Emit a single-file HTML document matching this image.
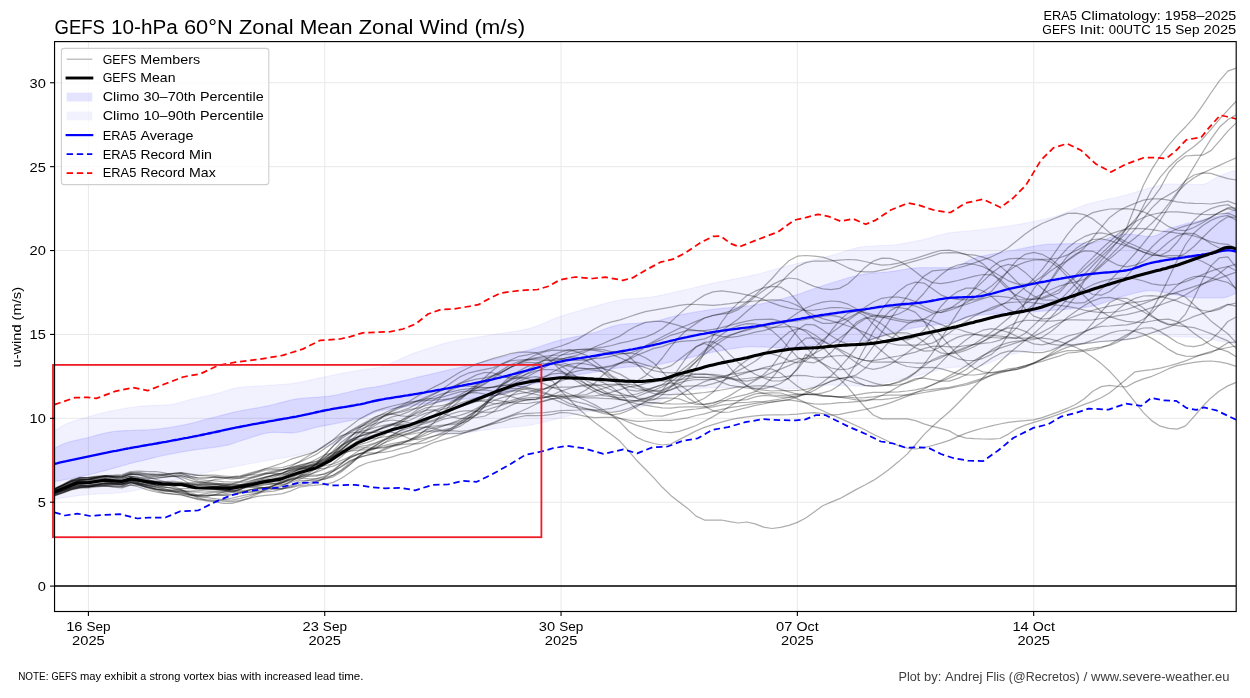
<!DOCTYPE html>
<html><head><meta charset="utf-8"><title>GEFS 10-hPa 60N Zonal Mean Zonal Wind</title>
<style>html,body{margin:0;padding:0;background:#fff;}svg{display:block;will-change:transform;}text{font-family:"Liberation Sans",sans-serif;}</style></head><body>
<svg width="1250" height="698" viewBox="0 0 1250 698">
<rect x="0" y="0" width="1250" height="698" fill="#fff"/>
<defs><clipPath id="ax"><rect x="54.55" y="41.6" width="1181.65" height="569.9"/></clipPath></defs>
<g stroke="#e9e9e9" stroke-width="1" fill="none">
<line x1="54.55" x2="1236.2" y1="586.10" y2="586.10"/>
<line x1="54.55" x2="1236.2" y1="502.21" y2="502.21"/>
<line x1="54.55" x2="1236.2" y1="418.32" y2="418.32"/>
<line x1="54.55" x2="1236.2" y1="334.43" y2="334.43"/>
<line x1="54.55" x2="1236.2" y1="250.54" y2="250.54"/>
<line x1="54.55" x2="1236.2" y1="166.65" y2="166.65"/>
<line x1="54.55" x2="1236.2" y1="82.76" y2="82.76"/>
<line x1="88.41" x2="88.41" y1="41.6" y2="611.5"/>
<line x1="324.73" x2="324.73" y1="41.6" y2="611.5"/>
<line x1="561.05" x2="561.05" y1="41.6" y2="611.5"/>
<line x1="797.37" x2="797.37" y1="41.6" y2="611.5"/>
<line x1="1033.69" x2="1033.69" y1="41.6" y2="611.5"/>
</g>
<g clip-path="url(#ax)">
<path d="M54.5,431.2 58.5,428.2 62.5,425.7 66.4,423.8 70.4,422.3 74.3,420.9 78.3,419.7 82.2,418.6 86.2,417.5 90.1,416.3 94.1,415.2 98.0,414.2 102.0,413.2 105.9,412.2 109.9,411.3 113.8,410.5 117.8,409.7 121.7,409.0 125.7,408.3 129.6,407.7 133.6,407.0 137.5,406.5 141.5,406.1 145.4,405.8 149.4,405.6 153.4,405.4 157.3,405.3 161.3,405.2 165.2,405.1 169.2,404.7 173.1,404.1 177.1,403.2 181.0,402.2 185.0,401.0 188.9,399.9 192.9,398.9 196.8,398.0 200.8,397.2 204.7,396.3 208.7,395.5 212.6,394.6 216.6,393.6 220.5,392.5 224.5,391.2 228.4,389.9 232.4,388.8 236.3,387.9 240.3,387.3 244.2,386.9 248.2,386.6 252.2,386.4 256.1,386.1 260.1,385.9 264.0,385.7 268.0,385.4 271.9,385.1 275.9,384.9 279.8,384.6 283.8,384.4 287.7,384.0 291.7,383.6 295.6,383.1 299.6,382.4 303.5,381.6 307.5,380.7 311.4,379.8 315.4,378.9 319.3,378.1 323.3,377.3 327.2,376.4 331.2,375.5 335.1,374.7 339.1,373.9 343.0,373.1 347.0,372.4 351.0,371.7 354.9,371.0 358.9,370.3 362.8,369.7 366.8,369.2 370.7,368.8 374.7,368.2 378.6,367.5 382.6,366.5 386.5,365.1 390.5,363.5 394.4,361.8 398.4,360.0 402.3,358.1 406.3,356.3 410.2,354.6 414.2,353.1 418.1,351.7 422.1,350.4 426.0,349.0 430.0,347.7 433.9,346.5 437.9,345.3 441.8,344.1 445.8,343.1 449.8,342.1 453.7,341.2 457.7,340.4 461.6,339.7 465.6,339.0 469.5,338.4 473.5,337.8 477.4,337.2 481.4,336.6 485.3,335.9 489.3,335.3 493.2,334.7 497.2,334.0 501.1,333.5 505.1,332.9 509.0,332.3 513.0,331.7 516.9,331.0 520.9,330.3 524.8,329.5 528.8,328.6 532.7,327.5 536.7,326.1 540.6,324.5 544.6,322.9 548.6,321.1 552.5,319.4 556.5,317.8 560.4,316.4 564.4,315.1 568.3,313.9 572.3,312.7 576.2,311.5 580.2,310.4 584.1,309.3 588.1,308.2 592.0,307.2 596.0,306.1 599.9,304.9 603.9,303.8 607.8,302.7 611.8,301.8 615.7,300.9 619.7,300.2 623.6,299.6 627.6,299.2 631.5,298.8 635.5,298.5 639.4,298.2 643.4,297.8 647.4,297.4 651.3,297.0 655.3,296.3 659.2,295.6 663.2,294.8 667.1,293.9 671.1,293.0 675.0,292.1 679.0,291.2 682.9,290.3 686.9,289.4 690.8,288.5 694.8,287.5 698.7,286.6 702.7,285.6 706.6,284.7 710.6,283.8 714.5,282.9 718.5,282.1 722.4,281.3 726.4,280.5 730.3,279.8 734.3,279.0 738.2,278.3 742.2,277.5 746.2,276.7 750.1,275.8 754.1,274.9 758.0,274.0 762.0,273.0 765.9,271.9 769.9,270.8 773.8,269.7 777.8,268.6 781.7,267.5 785.7,266.4 789.6,265.4 793.6,264.4 797.5,263.5 801.5,262.6 805.4,261.7 809.4,260.8 813.3,259.9 817.3,259.0 821.2,258.1 825.2,257.1 829.1,256.1 833.1,255.0 837.0,253.8 841.0,252.5 845.0,251.2 848.9,250.0 852.9,248.8 856.8,247.8 860.8,247.0 864.7,246.5 868.7,246.2 872.6,246.0 876.6,245.8 880.5,245.6 884.5,245.5 888.4,245.3 892.4,245.0 896.3,244.5 900.3,244.0 904.2,243.3 908.2,242.6 912.1,241.9 916.1,241.1 920.0,240.3 924.0,239.4 927.9,238.4 931.9,237.3 935.8,236.1 939.8,235.0 943.8,234.0 947.7,233.1 951.7,232.5 955.6,232.1 959.6,231.7 963.5,231.4 967.5,231.0 971.4,230.7 975.4,230.3 979.3,229.9 983.3,229.4 987.2,228.9 991.2,228.4 995.1,227.9 999.1,227.3 1003.0,226.8 1007.0,226.2 1010.9,225.6 1014.9,224.9 1018.8,224.3 1022.8,223.6 1026.7,222.9 1030.7,222.2 1034.6,221.4 1038.6,220.6 1042.6,219.7 1046.5,218.8 1050.5,217.8 1054.4,216.7 1058.4,215.4 1062.3,213.9 1066.3,212.3 1070.2,210.7 1074.2,209.1 1078.1,207.5 1082.1,206.0 1086.0,204.6 1090.0,203.5 1093.9,202.4 1097.9,201.5 1101.8,200.6 1105.8,199.7 1109.7,198.9 1113.7,198.0 1117.6,197.2 1121.6,196.2 1125.5,195.2 1129.5,194.1 1133.4,192.9 1137.4,191.6 1141.4,190.4 1145.3,189.1 1149.3,188.1 1153.2,187.1 1157.2,186.2 1161.1,185.2 1165.1,184.4 1169.0,184.0 1173.0,183.9 1176.9,184.0 1180.9,184.1 1184.8,184.2 1188.8,184.3 1192.7,184.5 1196.7,184.6 1200.6,184.6 1204.6,184.1 1208.5,182.5 1212.5,180.1 1216.4,177.6 1220.4,175.5 1224.3,174.0 1228.3,172.6 1232.2,171.3 1236.2,170.2 1236.2,343.9 1232.2,343.2 1228.3,342.6 1224.3,341.9 1220.4,341.2 1216.4,340.4 1212.5,339.5 1208.5,338.7 1204.6,338.0 1200.6,337.6 1196.7,337.4 1192.7,337.2 1188.8,337.1 1184.8,337.0 1180.9,336.9 1176.9,336.7 1173.0,336.5 1169.0,336.1 1165.1,335.3 1161.1,334.3 1157.2,333.3 1153.2,332.7 1149.3,332.7 1145.3,333.5 1141.4,334.9 1137.4,336.6 1133.4,338.2 1129.5,339.5 1125.5,340.3 1121.6,340.7 1117.6,341.0 1113.7,341.2 1109.7,341.4 1105.8,341.6 1101.8,341.8 1097.9,342.0 1093.9,342.3 1090.0,342.6 1086.0,343.0 1082.1,343.5 1078.1,344.1 1074.2,344.8 1070.2,345.5 1066.3,346.3 1062.3,347.0 1058.4,347.8 1054.4,348.4 1050.5,349.1 1046.5,349.6 1042.6,350.1 1038.6,350.6 1034.6,351.0 1030.7,351.5 1026.7,351.9 1022.8,352.5 1018.8,353.0 1014.9,353.7 1010.9,354.5 1007.0,355.7 1003.0,357.1 999.1,358.8 995.1,360.5 991.2,362.2 987.2,363.7 983.3,365.1 979.3,366.0 975.4,366.5 971.4,366.7 967.5,366.9 963.5,367.0 959.6,367.1 955.6,367.2 951.7,367.5 947.7,367.9 943.8,368.6 939.8,369.5 935.8,370.7 931.9,371.9 927.9,373.1 924.0,374.2 920.0,375.2 916.1,376.1 912.1,376.9 908.2,377.8 904.2,378.6 900.3,379.4 896.3,380.2 892.4,381.0 888.4,381.8 884.5,382.8 880.5,383.9 876.6,384.8 872.6,385.7 868.7,386.2 864.7,386.3 860.8,386.2 856.8,386.1 852.9,386.0 848.9,385.8 845.0,385.6 841.0,385.4 837.0,385.3 833.1,385.2 829.1,385.1 825.2,385.2 821.2,385.4 817.3,385.8 813.3,386.4 809.4,386.9 805.4,387.5 801.5,388.0 797.5,388.5 793.6,388.7 789.6,388.8 785.7,388.7 781.7,388.6 777.8,388.5 773.8,388.3 769.9,388.1 765.9,387.9 762.0,387.8 758.0,387.7 754.1,387.6 750.1,387.6 746.2,387.6 742.2,387.6 738.2,387.6 734.3,387.6 730.3,387.6 726.4,387.6 722.4,387.6 718.5,387.6 714.5,387.6 710.6,387.7 706.6,387.9 702.7,388.3 698.7,388.8 694.8,389.4 690.8,390.0 686.9,390.7 682.9,391.5 679.0,392.3 675.0,393.3 671.1,394.9 667.1,396.8 663.2,399.0 659.2,401.1 655.3,403.0 651.3,404.4 647.4,405.5 643.4,406.5 639.4,407.5 635.5,408.3 631.5,409.1 627.6,409.7 623.6,410.2 619.7,410.5 615.7,410.7 611.8,410.8 607.8,410.9 603.9,411.1 599.9,411.2 596.0,411.3 592.0,411.5 588.1,411.8 584.1,412.4 580.2,413.2 576.2,414.1 572.3,415.0 568.3,416.1 564.4,417.1 560.4,418.0 556.5,418.9 552.5,419.9 548.6,420.9 544.6,421.9 540.6,422.9 536.7,423.8 532.7,424.6 528.8,425.3 524.8,425.8 520.9,426.3 516.9,426.7 513.0,427.1 509.0,427.4 505.1,427.8 501.1,428.1 497.2,428.5 493.2,428.9 489.3,429.3 485.3,429.9 481.4,430.5 477.4,431.2 473.5,431.9 469.5,432.6 465.6,433.2 461.6,433.7 457.7,434.0 453.7,434.2 449.8,434.1 445.8,433.8 441.8,433.4 437.9,432.9 433.9,432.3 430.0,431.7 426.0,431.2 422.1,430.7 418.1,430.5 414.2,430.4 410.2,430.5 406.3,430.8 402.3,431.3 398.4,431.8 394.4,432.4 390.5,433.1 386.5,433.9 382.6,434.6 378.6,435.3 374.7,436.1 370.7,437.0 366.8,438.0 362.8,438.8 358.9,439.5 354.9,440.1 351.0,440.7 347.0,441.3 343.0,442.0 339.1,442.9 335.1,443.9 331.2,445.1 327.2,446.4 323.3,447.7 319.3,448.9 315.4,450.1 311.4,451.3 307.5,452.5 303.5,453.6 299.6,454.7 295.6,455.7 291.7,456.5 287.7,457.2 283.8,457.8 279.8,458.4 275.9,459.0 271.9,459.7 268.0,460.4 264.0,461.1 260.1,461.8 256.1,462.6 252.2,463.3 248.2,464.0 244.2,464.8 240.3,465.6 236.3,466.3 232.4,467.1 228.4,467.9 224.5,468.7 220.5,469.5 216.6,470.4 212.6,471.2 208.7,472.1 204.7,473.0 200.8,473.9 196.8,474.9 192.9,475.8 188.9,476.8 185.0,477.8 181.0,478.9 177.1,479.9 173.1,480.9 169.2,481.9 165.2,482.9 161.3,483.9 157.3,485.0 153.4,486.0 149.4,487.1 145.4,488.2 141.5,489.1 137.5,490.0 133.6,490.8 129.6,491.5 125.7,492.1 121.7,492.5 117.8,492.9 113.8,493.2 109.9,493.4 105.9,493.6 102.0,493.8 98.0,494.0 94.1,494.2 90.1,494.5 86.2,494.8 82.2,495.2 78.3,495.7 74.3,496.2 70.4,496.7 66.4,497.3 62.5,497.9 58.5,498.5 54.5,499.2Z" fill="#0000ff" fill-opacity="0.05" stroke="#0000ff" stroke-opacity="0.05" stroke-width="1.2"/>
<path d="M54.5,448.6 58.5,446.3 62.5,444.3 66.4,442.9 70.4,441.7 74.3,440.7 78.3,439.8 82.2,438.9 86.2,438.0 90.1,437.0 94.1,435.9 98.0,434.8 102.0,433.8 105.9,432.9 109.9,432.1 113.8,431.5 117.8,431.1 121.7,430.8 125.7,430.6 129.6,430.5 133.6,430.3 137.5,430.2 141.5,430.1 145.4,429.9 149.4,429.7 153.4,429.4 157.3,429.1 161.3,428.7 165.2,428.1 169.2,427.5 173.1,426.9 177.1,426.2 181.0,425.4 185.0,424.7 188.9,423.8 192.9,422.9 196.8,421.9 200.8,420.8 204.7,419.7 208.7,418.7 212.6,417.7 216.6,416.7 220.5,415.6 224.5,414.6 228.4,413.6 232.4,412.6 236.3,411.7 240.3,410.9 244.2,410.1 248.2,409.4 252.2,408.7 256.1,408.1 260.1,407.4 264.0,406.6 268.0,405.8 271.9,404.9 275.9,403.9 279.8,402.8 283.8,401.8 287.7,400.8 291.7,399.9 295.6,399.1 299.6,398.6 303.5,398.2 307.5,397.9 311.4,397.6 315.4,397.3 319.3,397.1 323.3,396.7 327.2,396.4 331.2,395.8 335.1,395.2 339.1,394.4 343.0,393.4 347.0,392.5 351.0,391.5 354.9,390.5 358.9,389.6 362.8,388.8 366.8,388.2 370.7,387.6 374.7,387.0 378.6,386.3 382.6,385.5 386.5,384.7 390.5,383.8 394.4,382.9 398.4,381.9 402.3,380.9 406.3,380.0 410.2,379.0 414.2,378.0 418.1,377.1 422.1,376.2 426.0,375.3 430.0,374.4 433.9,373.4 437.9,372.5 441.8,371.6 445.8,370.7 449.8,369.7 453.7,368.8 457.7,367.9 461.6,367.0 465.6,366.1 469.5,365.2 473.5,364.3 477.4,363.3 481.4,362.4 485.3,361.5 489.3,360.5 493.2,359.5 497.2,358.5 501.1,357.5 505.1,356.5 509.0,355.5 513.0,354.4 516.9,353.3 520.9,352.2 524.8,351.1 528.8,350.0 532.7,348.8 536.7,347.5 540.6,346.2 544.6,344.9 548.6,343.6 552.5,342.3 556.5,341.2 560.4,340.1 564.4,339.1 568.3,338.2 572.3,337.4 576.2,336.6 580.2,335.9 584.1,335.0 588.1,334.2 592.0,333.2 596.0,332.0 599.9,330.7 603.9,329.2 607.8,327.9 611.8,326.6 615.7,325.5 619.7,324.7 623.6,324.2 627.6,323.8 631.5,323.5 635.5,323.3 639.4,323.0 643.4,322.7 647.4,322.4 651.3,322.0 655.3,321.3 659.2,320.4 663.2,319.3 667.1,318.1 671.1,317.0 675.0,316.0 679.0,315.1 682.9,314.3 686.9,313.6 690.8,312.9 694.8,312.2 698.7,311.5 702.7,310.9 706.6,310.3 710.6,309.7 714.5,309.2 718.5,308.7 722.4,308.3 726.4,307.9 730.3,307.6 734.3,307.2 738.2,306.9 742.2,306.5 746.2,306.1 750.1,305.7 754.1,305.1 758.0,304.5 762.0,303.7 765.9,302.9 769.9,302.0 773.8,301.1 777.8,300.0 781.7,299.0 785.7,297.9 789.6,296.8 793.6,295.7 797.5,294.5 801.5,293.2 805.4,291.8 809.4,290.4 813.3,289.0 817.3,287.5 821.2,286.2 825.2,284.9 829.1,283.7 833.1,282.5 837.0,281.3 841.0,280.0 845.0,278.8 848.9,277.7 852.9,276.6 856.8,275.7 860.8,274.8 864.7,274.1 868.7,273.6 872.6,273.2 876.6,272.8 880.5,272.5 884.5,272.1 888.4,271.8 892.4,271.3 896.3,270.8 900.3,270.1 904.2,269.4 908.2,268.8 912.1,268.3 916.1,267.9 920.0,267.7 924.0,267.7 927.9,267.7 931.9,267.7 935.8,267.7 939.8,267.7 943.8,267.7 947.7,267.7 951.7,267.7 955.6,267.0 959.6,265.5 963.5,263.5 967.5,261.3 971.4,259.3 975.4,257.9 979.3,256.8 983.3,255.9 987.2,255.0 991.2,254.2 995.1,253.5 999.1,252.8 1003.0,252.1 1007.0,251.4 1010.9,250.7 1014.9,250.0 1018.8,249.2 1022.8,248.4 1026.7,247.6 1030.7,246.8 1034.6,246.0 1038.6,245.4 1042.6,244.8 1046.5,244.4 1050.5,244.1 1054.4,244.0 1058.4,243.9 1062.3,243.8 1066.3,243.8 1070.2,243.7 1074.2,243.6 1078.1,243.6 1082.1,243.5 1086.0,243.4 1090.0,243.2 1093.9,242.6 1097.9,241.6 1101.8,240.4 1105.8,239.0 1109.7,237.6 1113.7,236.3 1117.6,235.1 1121.6,234.4 1125.5,234.0 1129.5,234.1 1133.4,234.5 1137.4,235.1 1141.4,235.6 1145.3,236.2 1149.3,236.5 1153.2,236.3 1157.2,235.1 1161.1,233.1 1165.1,230.9 1169.0,228.9 1173.0,227.5 1176.9,226.3 1180.9,225.2 1184.8,224.2 1188.8,223.2 1192.7,222.3 1196.7,221.4 1200.6,220.4 1204.6,219.4 1208.5,218.5 1212.5,217.6 1216.4,216.6 1220.4,215.5 1224.3,214.2 1228.3,212.7 1232.2,210.9 1236.2,209.0 1236.2,293.1 1232.2,295.0 1228.3,296.6 1224.3,297.7 1220.4,298.0 1216.4,298.0 1212.5,298.0 1208.5,298.0 1204.6,298.0 1200.6,298.0 1196.7,297.8 1192.7,297.5 1188.8,296.9 1184.8,296.3 1180.9,295.6 1176.9,294.9 1173.0,294.3 1169.0,293.6 1165.1,292.7 1161.1,291.8 1157.2,291.1 1153.2,290.6 1149.3,290.6 1145.3,290.9 1141.4,291.7 1137.4,292.6 1133.4,293.6 1129.5,294.6 1125.5,295.6 1121.6,296.7 1117.6,297.9 1113.7,299.3 1109.7,300.7 1105.8,302.1 1101.8,303.4 1097.9,304.7 1093.9,305.7 1090.0,306.6 1086.0,307.2 1082.1,307.7 1078.1,308.1 1074.2,308.5 1070.2,308.9 1066.3,309.3 1062.3,309.6 1058.4,309.9 1054.4,310.2 1050.5,310.5 1046.5,310.8 1042.6,311.1 1038.6,311.4 1034.6,311.6 1030.7,311.9 1026.7,312.1 1022.8,312.4 1018.8,312.6 1014.9,312.9 1010.9,313.1 1007.0,313.4 1003.0,313.6 999.1,313.8 995.1,314.0 991.2,314.2 987.2,314.5 983.3,314.8 979.3,315.1 975.4,315.5 971.4,316.3 967.5,317.5 963.5,318.9 959.6,320.4 955.6,321.7 951.7,322.8 947.7,323.4 943.8,324.0 939.8,324.5 935.8,324.9 931.9,325.3 927.9,325.8 924.0,326.2 920.0,326.8 916.1,327.5 912.1,328.2 908.2,329.0 904.2,329.8 900.3,330.7 896.3,331.6 892.4,332.5 888.4,333.5 884.5,334.8 880.5,336.3 876.6,337.7 872.6,339.0 868.7,340.0 864.7,340.6 860.8,341.0 856.8,341.3 852.9,341.6 848.9,341.8 845.0,342.0 841.0,342.2 837.0,342.4 833.1,342.6 829.1,342.9 825.2,343.3 821.2,343.8 817.3,344.5 813.3,345.2 809.4,345.9 805.4,346.6 801.5,347.2 797.5,347.6 793.6,347.9 789.6,348.0 785.7,347.9 781.7,347.8 777.8,347.7 773.8,347.5 769.9,347.3 765.9,347.1 762.0,346.9 758.0,346.8 754.1,346.7 750.1,346.7 746.2,347.0 742.2,347.3 738.2,347.8 734.3,348.4 730.3,349.0 726.4,349.7 722.4,350.4 718.5,351.1 714.5,351.8 710.6,352.6 706.6,353.4 702.7,354.3 698.7,355.3 694.8,356.3 690.8,357.4 686.9,358.4 682.9,359.3 679.0,360.2 675.0,361.0 671.1,361.9 667.1,362.8 663.2,363.6 659.2,364.3 655.3,365.0 651.3,365.5 647.4,365.8 643.4,366.2 639.4,366.4 635.5,366.6 631.5,366.9 627.6,367.1 623.6,367.4 619.7,367.8 615.7,368.3 611.8,368.9 607.8,369.6 603.9,370.3 599.9,371.1 596.0,371.8 592.0,372.5 588.1,373.2 584.1,373.8 580.2,374.4 576.2,375.1 572.3,375.7 568.3,376.4 564.4,377.1 560.4,377.9 556.5,378.6 552.5,379.5 548.6,380.3 544.6,381.2 540.6,382.2 536.7,383.1 532.7,384.1 528.8,385.1 524.8,386.2 520.9,387.4 516.9,388.8 513.0,390.2 509.0,391.6 505.1,392.9 501.1,394.2 497.2,395.2 493.2,396.1 489.3,396.8 485.3,397.3 481.4,397.7 477.4,398.1 473.5,398.5 469.5,398.8 465.6,399.1 461.6,399.4 457.7,399.8 453.7,400.2 449.8,400.7 445.8,401.1 441.8,401.6 437.9,402.1 433.9,402.6 430.0,403.2 426.0,403.7 422.1,404.3 418.1,404.9 414.2,405.4 410.2,406.0 406.3,406.6 402.3,407.1 398.4,407.7 394.4,408.3 390.5,408.9 386.5,409.6 382.6,410.4 378.6,411.3 374.7,412.6 370.7,414.3 366.8,416.2 362.8,417.6 358.9,418.7 354.9,419.6 351.0,420.4 347.0,421.2 343.0,422.0 339.1,422.8 335.1,423.6 331.2,424.4 327.2,425.2 323.3,425.9 319.3,426.7 315.4,427.6 311.4,428.6 307.5,429.7 303.5,430.8 299.6,431.8 295.6,432.6 291.7,432.9 287.7,432.9 283.8,432.7 279.8,432.5 275.9,432.4 271.9,432.4 268.0,432.9 264.0,433.6 260.1,434.7 256.1,435.9 252.2,437.2 248.2,438.5 244.2,439.7 240.3,441.0 236.3,442.3 232.4,443.7 228.4,444.9 224.5,445.7 220.5,446.4 216.6,447.1 212.6,447.6 208.7,448.1 204.7,448.6 200.8,449.1 196.8,449.6 192.9,450.2 188.9,450.8 185.0,451.4 181.0,452.1 177.1,452.8 173.1,453.6 169.2,454.3 165.2,455.1 161.3,456.0 157.3,457.0 153.4,457.9 149.4,458.9 145.4,459.9 141.5,460.8 137.5,461.7 133.6,462.7 129.6,463.7 125.7,464.8 121.7,466.0 117.8,467.1 113.8,468.2 109.9,469.3 105.9,470.4 102.0,471.4 98.0,472.4 94.1,473.5 90.1,474.5 86.2,475.4 82.2,476.3 78.3,477.1 74.3,478.0 70.4,478.8 66.4,479.5 62.5,480.2 58.5,480.9 54.5,481.6Z" fill="#0000ff" fill-opacity="0.1" stroke="#0000ff" stroke-opacity="0.1" stroke-width="1.2"/>
<g stroke="#000" stroke-opacity="0.32" stroke-width="1.25" fill="none" stroke-linejoin="round">
<path d="M54.6,493.1 63.1,490.6 71.5,488.0 80.0,486.6 88.4,487.0 96.8,485.8 105.3,484.9 113.7,484.8 122.2,484.1 130.6,479.8 139.0,480.1 147.5,481.0 155.9,481.5 164.4,481.5 172.8,481.3 181.2,482.1 189.7,484.1 198.1,484.9 206.6,484.1 215.0,484.5 223.4,485.3 231.9,485.9 240.3,484.9 248.8,483.8 257.2,482.4 265.6,480.4 274.1,479.0 282.5,477.0 291.0,473.5 299.4,468.9 307.8,465.9 316.3,464.4 324.7,462.4 333.2,459.7 341.6,454.8 350.0,450.8 358.5,447.9 366.9,447.9 375.4,448.1 383.8,447.8 392.2,445.8 400.7,443.8 409.1,440.4 417.6,436.3 426.0,429.6 434.4,422.2 442.9,412.8 451.3,403.8 459.8,396.4 468.2,392.9 476.6,392.6 485.1,394.2 493.5,395.3 502.0,394.4 510.4,391.9 518.9,388.7 527.3,385.8 535.7,381.7 544.2,377.6 552.6,372.0 561.0,367.5 569.5,364.4 577.9,363.2 586.4,364.1 594.8,366.0 603.2,368.6 611.7,370.9 620.1,374.1 628.6,379.1 637.0,385.4 645.4,390.4 653.9,393.6 662.3,394.5 670.8,394.7 679.2,394.1 687.6,394.4 696.1,393.4 704.5,392.5 713.0,391.3 721.4,390.0 729.8,388.5 738.3,386.9 746.7,386.5 755.2,385.8 763.6,385.9 772.0,386.7 780.5,389.3 788.9,391.9 797.4,394.2 805.8,394.5 814.2,394.4 822.7,392.9 831.1,390.5 839.6,384.9 848.0,376.7 856.4,363.3 864.9,347.6 873.3,331.6 881.8,319.5 890.2,310.6 898.6,306.1 907.1,304.4 915.5,306.1 924.0,309.4 932.4,313.0 940.8,312.5 949.3,308.9 957.7,303.2 966.2,296.9 974.6,289.4 983.0,281.4 991.5,273.3 999.9,266.9 1008.4,264.3 1016.8,266.2 1025.2,272.4 1033.7,280.4 1042.1,288.5 1050.6,294.7 1059.0,299.0 1067.5,301.8 1075.9,303.2 1084.3,302.7 1092.8,297.4 1101.2,289.4 1109.7,280.9 1118.1,272.0 1126.5,262.9 1135.0,253.5 1143.4,243.4 1151.9,232.5 1160.3,220.1 1168.7,207.0 1177.2,193.9 1185.6,180.5 1194.0,166.6 1202.5,152.5 1210.9,139.1 1219.4,127.3 1227.8,119.7 1236.2,114.8"/>
<path d="M54.6,490.8 63.1,487.1 71.5,483.3 80.0,481.5 88.4,481.9 96.8,481.5 105.3,481.2 113.7,482.6 122.2,482.7 130.6,479.6 139.0,480.6 147.5,483.2 155.9,484.8 164.4,485.4 172.8,484.5 181.2,484.0 189.7,485.6 198.1,487.3 206.6,488.2 215.0,489.4 223.4,490.7 231.9,491.3 240.3,489.4 248.8,485.9 257.2,482.7 265.6,480.3 274.1,478.7 282.5,475.8 291.0,471.6 299.4,468.3 307.8,466.3 316.3,464.1 324.7,459.7 333.2,454.1 341.6,446.1 350.0,437.7 358.5,428.9 366.9,422.7 375.4,417.2 383.8,413.2 392.2,409.2 400.7,406.6 409.1,403.7 417.6,400.6 426.0,398.9 434.4,398.3 442.9,397.0 451.3,394.3 459.8,391.9 468.2,391.0 476.6,390.4 485.1,388.8 493.5,386.8 502.0,385.5 510.4,384.9 518.9,386.3 527.3,387.7 535.7,389.1 544.2,388.6 552.6,387.6 561.0,387.0 569.5,387.0 577.9,386.6 586.4,385.7 594.8,385.6 603.2,384.7 611.7,384.3 620.1,384.2 628.6,386.1 637.0,388.5 645.4,390.4 653.9,391.1 662.3,390.1 670.8,385.7 679.2,378.7 687.6,370.6 696.1,361.4 704.5,352.1 713.0,343.7 721.4,338.5 729.8,335.0 738.3,332.5 746.7,329.2 755.2,327.1 763.6,326.5 772.0,327.3 780.5,327.2 788.9,326.4 797.4,327.5 805.8,331.6 814.2,339.3 822.7,347.2 831.1,356.1 839.6,364.8 848.0,374.2 856.4,381.5 864.9,385.5 873.3,386.0 881.8,385.1 890.2,384.3 898.6,382.5 907.1,378.9 915.5,372.7 924.0,365.9 932.4,359.7 940.8,356.1 949.3,353.8 957.7,351.6 966.2,348.1 974.6,343.7 983.0,337.9 991.5,332.1 999.9,325.2 1008.4,318.2 1016.8,310.5 1025.2,303.6 1033.7,298.3 1042.1,294.0 1050.6,289.8 1059.0,286.2 1067.5,283.6 1075.9,281.9 1084.3,279.3 1092.8,272.5 1101.2,264.5 1109.7,256.2 1118.1,247.6 1126.5,238.7 1135.0,229.2 1143.4,218.3 1151.9,207.9 1160.3,199.8 1168.7,194.9 1177.2,189.8 1185.6,180.5 1194.0,175.0 1202.5,172.9 1210.9,173.4 1219.4,176.2 1227.8,178.7 1236.2,180.0"/>
<path d="M54.6,489.0 63.1,484.9 71.5,481.3 80.0,479.8 88.4,479.9 96.8,477.9 105.3,476.0 113.7,476.0 122.2,475.9 130.6,472.8 139.0,472.7 147.5,473.5 155.9,474.1 164.4,474.7 172.8,473.5 181.2,472.6 189.7,473.8 198.1,475.4 206.6,476.0 215.0,476.7 223.4,478.2 231.9,479.1 240.3,478.2 248.8,475.3 257.2,472.6 265.6,470.2 274.1,469.7 282.5,469.4 291.0,468.7 299.4,467.9 307.8,468.3 316.3,468.7 324.7,468.4 333.2,466.2 341.6,462.7 350.0,457.9 358.5,454.2 366.9,450.7 375.4,448.4 383.8,445.6 392.2,443.7 400.7,442.0 409.1,440.1 417.6,437.2 426.0,432.9 434.4,429.5 442.9,426.0 451.3,423.2 459.8,419.8 468.2,415.6 476.6,411.0 485.1,406.9 493.5,404.4 502.0,402.4 510.4,400.8 518.9,398.1 527.3,395.6 535.7,392.1 544.2,389.4 552.6,385.1 561.0,380.9 569.5,377.9 577.9,376.9 586.4,377.9 594.8,379.8 603.2,382.6 611.7,387.1 620.1,393.2 628.6,402.0 637.0,409.3 645.4,414.6 653.9,416.0 662.3,416.1 670.8,413.9 679.2,411.5 687.6,409.8 696.1,409.0 704.5,407.8 713.0,406.8 721.4,405.1 729.8,404.2 738.3,402.6 746.7,402.5 755.2,401.6 763.6,401.7 772.0,400.3 780.5,399.0 788.9,397.5 797.4,396.7 805.8,394.3 814.2,390.5 822.7,385.4 831.1,380.9 839.6,378.6 848.0,377.6 856.4,374.8 864.9,368.6 873.3,359.6 881.8,350.0 890.2,340.4 898.6,331.4 907.1,324.4 915.5,320.2 924.0,319.0 932.4,321.1 940.8,324.3 949.3,327.7 957.7,329.0 966.2,331.8 974.6,334.2 983.0,336.1 991.5,337.5 999.9,338.0 1008.4,338.0 1016.8,338.0 1025.2,338.0 1033.7,338.0 1042.1,338.1 1050.6,339.2 1059.0,341.4 1067.5,344.1 1075.9,347.3 1084.3,351.8 1092.8,357.2 1101.2,363.6 1109.7,371.3 1118.1,380.4 1126.5,391.4 1135.0,402.1 1143.4,412.6 1151.9,420.9 1160.3,426.2 1168.7,428.4 1177.2,429.2 1185.6,425.8 1194.0,416.7 1202.5,406.5 1210.9,397.9 1219.4,391.0 1227.8,385.9 1236.2,382.4"/>
<path d="M54.6,491.2 63.1,487.7 71.5,485.1 80.0,484.9 88.4,486.6 96.8,486.5 105.3,485.9 113.7,486.6 122.2,486.9 130.6,484.8 139.0,487.0 147.5,489.9 155.9,492.0 164.4,493.3 172.8,493.8 181.2,494.7 189.7,497.0 198.1,498.8 206.6,499.7 215.0,500.4 223.4,501.1 231.9,501.7 240.3,500.3 248.8,498.6 257.2,496.4 265.6,495.3 274.1,494.7 282.5,493.7 291.0,490.9 299.4,487.2 307.8,486.0 316.3,485.2 324.7,484.3 333.2,482.4 341.6,478.3 350.0,472.6 358.5,466.6 366.9,463.0 375.4,460.9 383.8,459.2 392.2,456.8 400.7,454.2 409.1,452.4 417.6,449.6 426.0,445.9 434.4,442.3 442.9,439.9 451.3,437.4 459.8,434.6 468.2,431.4 476.6,428.7 485.1,426.4 493.5,423.9 502.0,422.0 510.4,418.9 518.9,417.0 527.3,415.4 535.7,415.7 544.2,415.3 552.6,414.3 561.0,412.4 569.5,413.0 577.9,414.7 586.4,416.6 594.8,417.6 603.2,417.3 611.7,417.3 620.1,418.4 628.6,420.2 637.0,421.3 645.4,421.2 653.9,420.5 662.3,420.4 670.8,420.3 679.2,419.2 687.6,417.9 696.1,415.5 704.5,413.8 713.0,411.3 721.4,409.4 729.8,407.6 738.3,406.3 746.7,404.8 755.2,403.3 763.6,402.3 772.0,402.1 780.5,401.1 788.9,399.6 797.4,397.0 805.8,392.8 814.2,387.9 822.7,382.2 831.1,375.7 839.6,367.6 848.0,358.1 856.4,347.0 864.9,334.3 873.3,321.2 881.8,309.3 890.2,299.1 898.6,291.3 907.1,285.0 915.5,282.2 924.0,283.1 932.4,288.8 940.8,294.8 949.3,298.2 957.7,299.3 966.2,299.9 974.6,299.9 983.0,297.3 991.5,291.3 999.9,281.3 1008.4,270.1 1016.8,260.3 1025.2,254.3 1033.7,252.4 1042.1,254.3 1050.6,259.0 1059.0,265.6 1067.5,273.4 1075.9,281.9 1084.3,289.5 1092.8,294.5 1101.2,295.2 1109.7,291.5 1118.1,284.8 1126.5,276.4 1135.0,266.9 1143.4,256.6 1151.9,247.0 1160.3,239.0 1168.7,232.9 1177.2,228.7 1185.6,225.9 1194.0,223.5 1202.5,220.8 1210.9,217.2 1219.4,212.4 1227.8,207.7 1236.2,208.2"/>
<path d="M54.6,489.1 63.1,485.1 71.5,480.6 80.0,478.0 88.4,477.7 96.8,476.5 105.3,476.1 113.7,477.8 122.2,479.8 130.6,478.0 139.0,479.2 147.5,480.2 155.9,481.2 164.4,482.1 172.8,482.8 181.2,483.3 189.7,484.6 198.1,485.5 206.6,485.1 215.0,484.7 223.4,484.0 231.9,483.8 240.3,482.6 248.8,481.1 257.2,479.1 265.6,477.2 274.1,475.8 282.5,474.9 291.0,471.9 299.4,469.5 307.8,467.3 316.3,467.2 324.7,465.6 333.2,464.0 341.6,460.4 350.0,456.7 358.5,453.8 366.9,452.8 375.4,452.9 383.8,452.4 392.2,450.9 400.7,448.4 409.1,445.9 417.6,442.6 426.0,439.1 434.4,436.0 442.9,434.2 451.3,433.3 459.8,433.4 468.2,431.8 476.6,429.6 485.1,425.8 493.5,423.2 502.0,419.4 510.4,416.4 518.9,413.9 527.3,413.3 535.7,413.0 544.2,412.6 552.6,411.7 561.0,410.5 569.5,410.3 577.9,410.0 586.4,409.5 594.8,410.1 603.2,409.5 611.7,408.4 620.1,405.5 628.6,402.6 637.0,400.8 645.4,399.2 653.9,399.1 662.3,398.1 670.8,398.0 679.2,398.8 687.6,402.0 696.1,404.5 704.5,404.4 713.0,402.7 721.4,400.6 729.8,400.6 738.3,400.4 746.7,399.6 755.2,396.8 763.6,395.4 772.0,396.0 780.5,397.1 788.9,397.1 797.4,395.7 805.8,394.1 814.2,394.2 822.7,395.4 831.1,396.3 839.6,397.1 848.0,397.2 856.4,398.0 864.9,397.6 873.3,396.9 881.8,395.5 890.2,395.2 898.6,395.2 907.1,395.1 915.5,394.1 924.0,392.5 932.4,391.1 940.8,389.6 949.3,388.4 957.7,386.5 966.2,384.9 974.6,382.4 983.0,379.4 991.5,374.9 999.9,371.5 1008.4,368.9 1016.8,367.8 1025.2,365.7 1033.7,363.0 1042.1,359.4 1050.6,355.7 1059.0,352.6 1067.5,350.7 1075.9,350.6 1084.3,349.8 1092.8,348.2 1101.2,347.0 1109.7,345.3 1118.1,341.9 1126.5,336.7 1135.0,330.1 1143.4,321.4 1151.9,309.9 1160.3,295.4 1168.7,278.3 1177.2,260.2 1185.6,244.5 1194.0,233.0 1202.5,225.7 1210.9,220.4 1219.4,217.0 1227.8,215.4 1236.2,220.3"/>
<path d="M54.6,495.0 63.1,492.0 71.5,488.4 80.0,486.6 88.4,486.7 96.8,486.1 105.3,485.9 113.7,487.2 122.2,487.8 130.6,484.9 139.0,485.4 147.5,487.4 155.9,489.3 164.4,491.5 172.8,491.6 181.2,492.2 189.7,494.6 198.1,497.9 206.6,500.3 215.0,502.0 223.4,503.3 231.9,503.3 240.3,501.2 248.8,498.1 257.2,494.1 265.6,489.5 274.1,485.1 282.5,481.8 291.0,479.3 299.4,478.0 307.8,478.6 316.3,478.9 324.7,477.5 333.2,475.2 341.6,470.6 350.0,464.4 358.5,457.4 366.9,451.0 375.4,445.6 383.8,440.0 392.2,436.0 400.7,432.8 409.1,430.4 417.6,427.6 426.0,427.0 434.4,428.7 442.9,430.8 451.3,429.7 459.8,426.4 468.2,420.7 476.6,413.9 485.1,405.3 493.5,396.7 502.0,391.1 510.4,388.4 518.9,388.7 527.3,389.3 535.7,391.6 544.2,393.6 552.6,395.8 561.0,396.5 569.5,396.5 577.9,394.4 586.4,389.8 594.8,383.0 603.2,374.7 611.7,368.0 620.1,363.3 628.6,362.1 637.0,362.4 645.4,364.9 653.9,367.4 662.3,368.8 670.8,365.9 679.2,359.5 687.6,353.1 696.1,347.0 704.5,342.4 713.0,341.7 721.4,346.1 729.8,354.5 738.3,362.6 746.7,369.1 755.2,374.2 763.6,377.9 772.0,380.9 780.5,381.0 788.9,378.3 797.4,368.4 805.8,354.2 814.2,358.5 822.7,363.8 831.1,370.8 839.6,378.9 848.0,387.5 856.4,397.6 864.9,407.0 873.3,415.0 881.8,418.9 890.2,418.9 898.6,418.9 907.1,418.9 915.5,420.7 924.0,423.8 932.4,426.3 940.8,428.4 949.3,430.9 957.7,435.7 966.2,438.2 974.6,438.7 983.0,439.0 991.5,439.2 999.9,438.5 1008.4,434.1 1016.8,428.6 1025.2,425.1 1033.7,422.4 1042.1,419.9 1050.6,417.1 1059.0,414.1 1067.5,410.9 1075.9,407.6 1084.3,404.4 1092.8,401.4 1101.2,397.8 1109.7,392.7 1118.1,386.0 1126.5,378.9 1135.0,371.8 1143.4,370.6 1151.9,369.7 1160.3,368.1 1168.7,366.0 1177.2,363.7 1185.6,360.9 1194.0,357.5 1202.5,354.1 1210.9,351.5 1219.4,349.3 1227.8,347.5 1236.2,346.0"/>
<path d="M54.6,489.3 63.1,485.2 71.5,481.3 80.0,479.1 88.4,479.3 96.8,477.6 105.3,476.4 113.7,476.9 122.2,477.0 130.6,474.1 139.0,474.7 147.5,477.2 155.9,479.4 164.4,481.5 172.8,483.2 181.2,484.9 189.7,487.5 198.1,488.0 206.6,487.6 215.0,487.5 223.4,488.4 231.9,488.6 240.3,487.5 248.8,485.6 257.2,485.3 265.6,484.2 274.1,484.1 282.5,482.9 291.0,480.4 299.4,477.4 307.8,473.7 316.3,468.6 324.7,461.8 333.2,455.2 341.6,448.8 350.0,442.9 358.5,437.2 366.9,433.3 375.4,430.3 383.8,428.2 392.2,425.0 400.7,420.8 409.1,415.4 417.6,409.5 426.0,404.2 434.4,399.7 442.9,394.8 451.3,390.0 459.8,386.3 468.2,385.8 476.6,386.8 485.1,387.7 493.5,387.3 502.0,386.1 510.4,384.3 518.9,382.8 527.3,381.0 535.7,379.2 544.2,376.6 552.6,373.8 561.0,373.1 569.5,375.3 577.9,379.7 586.4,384.2 594.8,388.7 603.2,392.7 611.7,396.7 620.1,399.7 628.6,401.0 637.0,400.4 645.4,398.2 653.9,395.5 662.3,392.7 670.8,389.7 679.2,386.8 687.6,386.2 696.1,385.9 704.5,385.8 713.0,383.7 721.4,381.1 729.8,377.8 738.3,375.4 746.7,372.6 755.2,370.2 763.6,368.5 772.0,369.1 780.5,373.0 788.9,379.4 797.4,386.3 805.8,391.4 814.2,394.0 822.7,395.6 831.1,396.1 839.6,396.9 848.0,396.2 856.4,394.9 864.9,393.3 873.3,392.4 881.8,392.3 890.2,392.1 898.6,391.9 907.1,391.0 915.5,389.8 924.0,387.8 932.4,384.8 940.8,381.4 949.3,378.1 957.7,374.4 966.2,369.5 974.6,363.1 983.0,356.1 991.5,349.9 999.9,345.3 1008.4,342.6 1016.8,341.1 1025.2,340.5 1033.7,339.5 1042.1,337.3 1050.6,331.8 1059.0,324.9 1067.5,317.2 1075.9,311.2 1084.3,305.4 1092.8,300.8 1101.2,297.8 1109.7,297.3 1118.1,299.4 1126.5,302.5 1135.0,307.2 1143.4,311.7 1151.9,316.8 1160.3,320.9 1168.7,324.2 1177.2,325.6 1185.6,326.6 1194.0,327.7 1202.5,330.5 1210.9,333.7 1219.4,337.3 1227.8,340.8 1236.2,348.4"/>
<path d="M54.6,491.8 63.1,487.7 71.5,483.3 80.0,480.1 88.4,479.1 96.8,477.1 105.3,476.0 113.7,476.8 122.2,477.0 130.6,474.3 139.0,474.5 147.5,475.3 155.9,475.8 164.4,476.1 172.8,476.3 181.2,476.8 189.7,480.2 198.1,482.4 206.6,483.4 215.0,483.8 223.4,484.8 231.9,486.6 240.3,486.9 248.8,486.9 257.2,485.8 265.6,484.8 274.1,483.5 282.5,482.3 291.0,479.4 299.4,476.1 307.8,472.6 316.3,467.9 324.7,462.2 333.2,456.2 341.6,450.0 350.0,442.8 358.5,436.2 366.9,429.2 375.4,423.1 383.8,416.0 392.2,410.6 400.7,405.7 409.1,401.5 417.6,396.1 426.0,391.3 434.4,386.9 442.9,382.6 451.3,377.5 459.8,372.3 468.2,368.0 476.6,364.0 485.1,361.2 493.5,358.4 502.0,356.1 510.4,353.7 518.9,352.2 527.3,352.2 535.7,352.6 544.2,356.5 552.6,362.4 561.0,370.5 569.5,377.1 577.9,381.9 586.4,387.1 594.8,391.5 603.2,395.7 611.7,396.7 620.1,397.9 628.6,397.0 637.0,396.5 645.4,393.1 653.9,390.4 662.3,386.8 670.8,382.1 679.2,375.7 687.6,368.7 696.1,361.7 704.5,354.4 713.0,347.5 721.4,341.0 729.8,335.7 738.3,332.4 746.7,330.4 755.2,328.0 763.6,324.8 772.0,322.4 780.5,321.9 788.9,321.7 797.4,321.0 805.8,319.3 814.2,317.7 822.7,316.4 831.1,315.3 839.6,316.9 848.0,320.7 856.4,328.2 864.9,336.2 873.3,344.0 881.8,351.0 890.2,358.0 898.6,363.5 907.1,366.5 915.5,367.5 924.0,367.5 932.4,367.4 940.8,368.6 949.3,371.1 957.7,373.6 966.2,374.9 974.6,375.0 983.0,373.8 991.5,372.5 999.9,371.2 1008.4,370.4 1016.8,369.3 1025.2,366.7 1033.7,362.9 1042.1,358.8 1050.6,354.7 1059.0,350.7 1067.5,347.1 1075.9,345.2 1084.3,343.7 1092.8,342.7 1101.2,341.5 1109.7,340.9 1118.1,340.0 1126.5,339.4 1135.0,338.1 1143.4,335.6 1151.9,332.9 1160.3,329.8 1168.7,327.1 1177.2,323.6 1185.6,320.2 1194.0,316.4 1202.5,313.6 1210.9,310.8 1219.4,307.9 1227.8,304.3 1236.2,306.2"/>
<path d="M54.6,495.8 63.1,492.7 71.5,489.4 80.0,488.1 88.4,487.9 96.8,487.0 105.3,485.9 113.7,486.5 122.2,486.3 130.6,482.9 139.0,483.8 147.5,485.0 155.9,486.1 164.4,487.0 172.8,488.5 181.2,490.5 189.7,494.3 198.1,496.4 206.6,497.6 215.0,498.7 223.4,499.9 231.9,500.2 240.3,498.4 248.8,496.1 257.2,493.0 265.6,489.7 274.1,485.3 282.5,480.6 291.0,475.1 299.4,470.6 307.8,467.7 316.3,464.3 324.7,460.8 333.2,456.4 341.6,451.1 350.0,445.6 358.5,440.6 366.9,437.3 375.4,434.4 383.8,432.3 392.2,432.2 400.7,435.0 409.1,438.5 417.6,439.7 426.0,438.0 434.4,435.9 442.9,432.6 451.3,428.3 459.8,422.2 468.2,415.9 476.6,409.9 485.1,404.8 493.5,400.7 502.0,397.7 510.4,395.7 518.9,393.7 527.3,392.4 535.7,390.3 544.2,388.8 552.6,385.2 561.0,379.5 569.5,372.2 577.9,365.1 586.4,360.8 594.8,357.7 603.2,354.5 611.7,351.9 620.1,351.2 628.6,356.0 637.0,364.0 645.4,373.0 653.9,378.3 662.3,381.2 670.8,380.7 679.2,379.9 687.6,378.6 696.1,377.3 704.5,377.0 713.0,379.0 721.4,382.2 729.8,385.3 738.3,386.6 746.7,388.0 755.2,388.3 763.6,388.6 772.0,386.6 780.5,383.5 788.9,377.8 797.4,369.3 805.8,358.6 814.2,348.1 822.7,340.0 831.1,333.0 839.6,326.9 848.0,320.6 856.4,314.4 864.9,309.9 873.3,307.6 881.8,306.9 890.2,306.9 898.6,307.5 907.1,308.9 915.5,312.4 924.0,321.2 932.4,334.8 940.8,347.7 949.3,354.9 957.7,358.8 966.2,360.4 974.6,360.5 983.0,358.3 991.5,354.4 999.9,346.8 1008.4,334.6 1016.8,319.1 1025.2,302.5 1033.7,288.8 1042.1,277.8 1050.6,271.0 1059.0,265.2 1067.5,260.7 1075.9,254.9 1084.3,247.9 1092.8,238.0 1101.2,227.3 1109.7,217.4 1118.1,211.2 1126.5,206.8 1135.0,203.3 1143.4,200.2 1151.9,198.9 1160.3,198.8 1168.7,200.1 1177.2,201.8 1185.6,202.8 1194.0,203.3 1202.5,203.5 1210.9,204.0 1219.4,202.7 1227.8,201.2 1236.2,204.1"/>
<path d="M54.6,490.6 63.1,486.9 71.5,483.1 80.0,480.9 88.4,481.5 96.8,481.1 105.3,481.6 113.7,483.7 122.2,485.2 130.6,482.7 139.0,484.1 147.5,485.5 155.9,486.8 164.4,487.6 172.8,487.1 181.2,484.6 189.7,482.7 198.1,481.8 206.6,482.2 215.0,483.2 223.4,484.3 231.9,484.9 240.3,484.5 248.8,483.4 257.2,482.4 265.6,480.8 274.1,479.2 282.5,477.3 291.0,473.3 299.4,469.3 307.8,465.9 316.3,463.0 324.7,458.2 333.2,452.1 341.6,445.0 350.0,440.1 358.5,436.7 366.9,434.3 375.4,431.1 383.8,427.7 392.2,425.4 400.7,425.1 409.1,425.6 417.6,424.2 426.0,420.9 434.4,414.9 442.9,408.4 451.3,401.6 459.8,397.1 468.2,392.8 476.6,388.0 485.1,382.7 493.5,379.1 502.0,377.3 510.4,376.7 518.9,377.3 527.3,378.7 535.7,381.2 544.2,383.8 552.6,387.3 561.0,390.4 569.5,394.0 577.9,397.1 586.4,400.8 594.8,404.9 603.2,409.7 611.7,415.2 620.1,422.1 628.6,431.0 637.0,437.4 645.4,441.2 653.9,443.5 662.3,445.0 670.8,444.0 679.2,439.6 687.6,435.4 696.1,430.9 704.5,427.4 713.0,424.7 721.4,422.2 729.8,419.9 738.3,418.1 746.7,416.9 755.2,415.8 763.6,415.2 772.0,414.9 780.5,414.8 788.9,414.7 797.4,414.1 805.8,413.2 814.2,412.6 822.7,413.7 831.1,415.1 839.6,414.3 848.0,412.7 856.4,411.1 864.9,409.5 873.3,407.6 881.8,405.4 890.2,402.8 898.6,399.7 907.1,396.3 915.5,392.8 924.0,389.0 932.4,384.8 940.8,380.5 949.3,375.9 957.7,371.1 966.2,365.8 974.6,360.4 983.0,355.4 991.5,351.4 999.9,348.1 1008.4,345.4 1016.8,342.7 1025.2,339.8 1033.7,336.4 1042.1,332.1 1050.6,327.5 1059.0,323.0 1067.5,319.0 1075.9,315.8 1084.3,312.9 1092.8,310.3 1101.2,308.0 1109.7,306.1 1118.1,304.6 1126.5,303.4 1135.0,302.4 1143.4,301.2 1151.9,299.6 1160.3,297.5 1168.7,295.0 1177.2,292.2 1185.6,289.4 1194.0,286.7 1202.5,283.9 1210.9,281.1 1219.4,278.2 1227.8,275.2 1236.2,272.1"/>
<path d="M54.6,493.6 63.1,490.7 71.5,487.2 80.0,485.3 88.4,484.9 96.8,484.2 105.3,483.7 113.7,484.2 122.2,484.3 130.6,481.6 139.0,484.2 147.5,486.8 155.9,489.2 164.4,490.6 172.8,492.0 181.2,493.1 189.7,495.0 198.1,495.8 206.6,495.7 215.0,495.1 223.4,495.2 231.9,494.5 240.3,492.9 248.8,490.1 257.2,488.5 265.6,487.4 274.1,487.0 282.5,485.2 291.0,481.3 299.4,477.1 307.8,474.9 316.3,472.2 324.7,468.9 333.2,463.3 341.6,456.5 350.0,448.4 358.5,441.5 366.9,435.5 375.4,430.9 383.8,426.7 392.2,424.1 400.7,420.8 409.1,416.9 417.6,411.5 426.0,407.8 434.4,406.5 442.9,405.3 451.3,402.8 459.8,398.1 468.2,393.6 476.6,388.5 485.1,383.9 493.5,377.8 502.0,372.6 510.4,367.1 518.9,364.0 527.3,362.4 535.7,362.8 544.2,363.4 552.6,363.5 561.0,364.7 569.5,366.5 577.9,368.4 586.4,368.6 594.8,368.3 603.2,367.0 611.7,365.5 620.1,362.8 628.6,359.6 637.0,355.2 645.4,351.8 653.9,348.4 662.3,346.6 670.8,343.4 679.2,341.7 687.6,340.8 696.1,340.3 704.5,338.8 713.0,335.2 721.4,331.0 729.8,325.1 738.3,319.0 746.7,311.5 755.2,304.6 763.6,297.6 772.0,290.7 780.5,282.7 788.9,274.0 797.4,266.5 805.8,262.6 814.2,261.0 822.7,261.1 831.1,260.8 839.6,260.2 848.0,259.5 856.4,259.9 864.9,261.5 873.3,263.6 881.8,265.1 890.2,264.6 898.6,263.1 907.1,260.5 915.5,258.4 924.0,255.7 932.4,252.9 940.8,250.5 949.3,250.1 957.7,252.0 966.2,254.6 974.6,258.7 983.0,263.9 991.5,272.0 999.9,281.3 1008.4,290.1 1016.8,295.7 1025.2,298.7 1033.7,299.2 1042.1,298.6 1050.6,295.9 1059.0,293.0 1067.5,283.9 1075.9,276.7 1084.3,269.3 1092.8,261.7 1101.2,253.9 1109.7,245.8 1118.1,237.5 1126.5,228.7 1135.0,219.6 1143.4,210.0 1151.9,199.7 1160.3,188.1 1168.7,172.5 1177.2,162.2 1185.6,156.0 1194.0,155.3 1202.5,155.2 1210.9,150.6 1219.4,141.1 1227.8,131.1 1236.2,122.9"/>
<path d="M54.6,493.6 63.1,490.6 71.5,487.2 80.0,485.7 88.4,485.6 96.8,484.3 105.3,482.5 113.7,482.6 122.2,482.4 130.6,479.6 139.0,480.8 147.5,483.5 155.9,485.4 164.4,485.9 172.8,485.0 181.2,484.8 189.7,487.1 198.1,488.5 206.6,488.3 215.0,486.8 223.4,485.6 231.9,483.8 240.3,481.3 248.8,478.4 257.2,475.5 265.6,472.9 274.1,470.8 282.5,469.7 291.0,467.1 299.4,465.3 307.8,463.5 316.3,461.7 324.7,459.0 333.2,455.3 341.6,449.4 350.0,441.5 358.5,433.1 366.9,426.1 375.4,420.9 383.8,415.9 392.2,411.5 400.7,407.7 409.1,404.7 417.6,401.1 426.0,397.0 434.4,393.3 442.9,390.1 451.3,387.1 459.8,383.7 468.2,381.2 476.6,379.1 485.1,377.8 493.5,375.4 502.0,371.8 510.4,367.5 518.9,363.4 527.3,359.3 535.7,354.8 544.2,351.9 552.6,350.1 561.0,350.4 569.5,349.9 577.9,349.6 586.4,349.5 594.8,350.4 603.2,351.8 611.7,354.4 620.1,357.8 628.6,361.6 637.0,364.9 645.4,367.6 653.9,370.6 662.3,372.3 670.8,372.9 679.2,372.4 687.6,373.6 696.1,374.1 704.5,374.3 713.0,374.4 721.4,375.3 729.8,377.6 738.3,381.4 746.7,385.5 755.2,389.1 763.6,390.2 772.0,391.0 780.5,390.5 788.9,390.6 797.4,390.5 805.8,389.4 814.2,387.4 822.7,384.5 831.1,381.5 839.6,378.7 848.0,377.1 856.4,377.1 864.9,380.0 873.3,382.8 881.8,385.2 890.2,385.7 898.6,384.9 907.1,382.8 915.5,380.0 924.0,376.6 932.4,370.7 940.8,362.6 949.3,354.0 957.7,346.5 966.2,339.8 974.6,334.0 983.0,330.2 991.5,328.6 999.9,329.8 1008.4,332.3 1016.8,336.4 1025.2,340.5 1033.7,343.9 1042.1,344.9 1050.6,343.1 1059.0,339.6 1067.5,336.2 1075.9,334.0 1084.3,331.5 1092.8,328.0 1101.2,322.7 1109.7,316.6 1118.1,309.3 1126.5,303.1 1135.0,298.3 1143.4,296.0 1151.9,295.6 1160.3,296.5 1168.7,298.6 1177.2,301.1 1185.6,304.5 1194.0,307.7 1202.5,310.5 1210.9,311.5 1219.4,309.4 1227.8,304.8 1236.2,303.0"/>
<path d="M54.6,489.9 63.1,485.9 71.5,481.3 80.0,477.8 88.4,477.3 96.8,476.0 105.3,475.7 113.7,476.3 122.2,476.7 130.6,473.8 139.0,474.2 147.5,474.5 155.9,474.7 164.4,474.1 172.8,473.4 181.2,472.8 189.7,474.5 198.1,475.4 206.6,475.0 215.0,475.2 223.4,476.0 231.9,476.7 240.3,475.8 248.8,473.3 257.2,471.1 265.6,468.8 274.1,468.2 282.5,467.5 291.0,465.0 299.4,462.1 307.8,458.5 316.3,454.4 324.7,448.6 333.2,442.7 341.6,436.2 350.0,431.5 358.5,427.3 366.9,424.3 375.4,420.6 383.8,416.7 392.2,413.4 400.7,411.0 409.1,408.1 417.6,403.4 426.0,398.5 434.4,394.0 442.9,388.8 451.3,382.8 459.8,376.9 468.2,373.2 476.6,371.2 485.1,369.4 493.5,367.6 502.0,363.8 510.4,360.1 518.9,356.3 527.3,354.8 535.7,353.0 544.2,351.2 552.6,348.5 561.0,346.0 569.5,342.8 577.9,339.1 586.4,333.9 594.8,328.7 603.2,324.4 611.7,321.9 620.1,319.8 628.6,317.0 637.0,314.2 645.4,311.6 653.9,310.1 662.3,308.7 670.8,307.2 679.2,305.3 687.6,304.4 696.1,304.5 704.5,304.9 713.0,305.4 721.4,304.7 729.8,303.7 738.3,302.3 746.7,301.8 755.2,301.0 763.6,300.3 772.0,299.9 780.5,300.1 788.9,302.0 797.4,305.5 805.8,310.9 814.2,315.2 822.7,318.6 831.1,320.8 839.6,323.2 848.0,326.0 856.4,329.0 864.9,332.6 873.3,336.5 881.8,340.3 890.2,343.5 898.6,345.1 907.1,345.2 915.5,345.2 924.0,344.7 932.4,343.1 940.8,338.4 949.3,333.0 957.7,326.8 966.2,321.4 974.6,316.0 983.0,311.7 991.5,307.6 999.9,304.7 1008.4,302.6 1016.8,302.0 1025.2,301.9 1033.7,302.8 1042.1,303.8 1050.6,304.7 1059.0,305.3 1067.5,306.3 1075.9,308.0 1084.3,310.1 1092.8,311.6 1101.2,312.6 1109.7,312.5 1118.1,311.5 1126.5,309.5 1135.0,306.6 1143.4,303.6 1151.9,300.5 1160.3,296.9 1168.7,293.9 1177.2,293.4 1185.6,297.3 1194.0,304.7 1202.5,312.8 1210.9,320.9 1219.4,327.5 1227.8,333.8 1236.2,342.6"/>
<path d="M54.6,494.5 63.1,491.7 71.5,488.8 80.0,487.2 88.4,487.0 96.8,485.6 105.3,485.1 113.7,485.4 122.2,485.8 130.6,482.5 139.0,484.6 147.5,487.0 155.9,489.0 164.4,489.8 172.8,489.6 181.2,488.7 189.7,488.6 198.1,488.6 206.6,487.9 215.0,488.5 223.4,490.1 231.9,492.2 240.3,492.9 248.8,492.3 257.2,490.8 265.6,488.2 274.1,485.9 282.5,482.9 291.0,478.4 299.4,473.4 307.8,469.2 316.3,464.6 324.7,458.1 333.2,450.6 341.6,442.0 350.0,436.1 358.5,431.9 366.9,430.1 375.4,427.5 383.8,425.4 392.2,423.8 400.7,424.1 409.1,423.9 417.6,422.4 426.0,419.6 434.4,416.9 442.9,412.9 451.3,407.4 459.8,400.4 468.2,393.0 476.6,385.4 485.1,377.3 493.5,369.8 502.0,364.1 510.4,360.8 518.9,360.0 527.3,359.5 535.7,359.8 544.2,360.0 552.6,359.9 561.0,359.1 569.5,357.4 577.9,354.8 586.4,351.5 594.8,346.9 603.2,343.5 611.7,339.6 620.1,336.1 628.6,330.2 637.0,325.8 645.4,322.3 653.9,321.4 662.3,321.4 670.8,323.4 679.2,325.7 687.6,329.0 696.1,330.4 704.5,330.7 713.0,329.4 721.4,327.7 729.8,325.4 738.3,323.2 746.7,321.2 755.2,319.6 763.6,319.3 772.0,319.2 780.5,321.2 788.9,326.0 797.4,336.1 805.8,346.7 814.2,356.4 822.7,363.2 831.1,368.0 839.6,369.7 848.0,369.0 856.4,365.6 864.9,358.2 873.3,346.4 881.8,332.4 890.2,319.4 898.6,307.5 907.1,296.4 915.5,285.0 924.0,276.1 932.4,270.9 940.8,270.1 949.3,269.5 957.7,268.0 966.2,265.6 974.6,262.8 983.0,259.9 991.5,256.8 999.9,252.7 1008.4,247.5 1016.8,240.8 1025.2,234.1 1033.7,228.1 1042.1,223.5 1050.6,220.0 1059.0,216.7 1067.5,213.4 1075.9,213.1 1084.3,214.6 1092.8,218.9 1101.2,225.4 1109.7,232.7 1118.1,239.4 1126.5,244.8 1135.0,248.4 1143.4,252.1 1151.9,254.5 1160.3,256.2 1168.7,255.7 1177.2,255.6 1185.6,256.0 1194.0,258.2 1202.5,261.5 1210.9,266.0 1219.4,271.3 1227.8,278.0 1236.2,289.6"/>
<path d="M54.6,494.8 63.1,492.2 71.5,488.9 80.0,487.2 88.4,487.0 96.8,485.5 105.3,483.7 113.7,483.8 122.2,483.5 130.6,480.3 139.0,481.0 147.5,482.6 155.9,485.0 164.4,487.0 172.8,488.3 181.2,489.9 189.7,492.8 198.1,495.1 206.6,495.1 215.0,494.7 223.4,493.8 231.9,492.5 240.3,489.3 248.8,485.7 257.2,483.0 265.6,482.6 274.1,483.6 282.5,484.6 291.0,482.5 299.4,479.3 307.8,475.8 316.3,471.2 324.7,464.6 333.2,457.1 341.6,449.6 350.0,442.6 358.5,436.4 366.9,430.4 375.4,425.2 383.8,420.5 392.2,416.9 400.7,414.9 409.1,411.7 417.6,407.1 426.0,400.6 434.4,396.5 442.9,393.5 451.3,391.9 459.8,389.8 468.2,388.8 476.6,388.0 485.1,387.8 493.5,386.8 502.0,384.4 510.4,379.7 518.9,375.0 527.3,369.8 535.7,365.1 544.2,360.3 552.6,355.0 561.0,351.9 569.5,349.9 577.9,352.1 586.4,355.3 594.8,361.8 603.2,368.3 611.7,375.7 620.1,380.4 628.6,382.6 637.0,380.7 645.4,375.9 653.9,367.6 662.3,358.0 670.8,346.6 679.2,337.2 687.6,329.4 696.1,323.4 704.5,318.0 713.0,315.3 721.4,314.1 729.8,313.2 738.3,309.6 746.7,303.8 755.2,296.7 763.6,290.6 772.0,284.9 780.5,280.6 788.9,278.0 797.4,279.0 805.8,282.8 814.2,286.3 822.7,288.9 831.1,289.7 839.6,288.4 848.0,283.8 856.4,276.1 864.9,267.4 873.3,261.2 881.8,258.2 890.2,258.3 898.6,260.8 907.1,265.6 915.5,271.8 924.0,278.4 932.4,282.6 940.8,283.6 949.3,282.3 957.7,280.5 966.2,278.4 974.6,276.1 983.0,274.5 991.5,274.8 999.9,279.1 1008.4,287.5 1016.8,298.5 1025.2,308.6 1033.7,316.1 1042.1,319.1 1050.6,318.2 1059.0,313.1 1067.5,305.9 1075.9,296.0 1084.3,281.1 1092.8,273.6 1101.2,266.2 1109.7,258.9 1118.1,251.6 1126.5,244.6 1135.0,237.9 1143.4,230.9 1151.9,223.2 1160.3,214.4 1168.7,203.8 1177.2,192.3 1185.6,184.0 1194.0,177.7 1202.5,173.1 1210.9,169.3 1219.4,165.4 1227.8,161.5 1236.2,157.9"/>
<path d="M54.6,495.6 63.1,493.0 71.5,489.8 80.0,487.6 88.4,486.7 96.8,484.8 105.3,483.2 113.7,483.2 122.2,483.6 130.6,481.8 139.0,484.7 147.5,487.9 155.9,490.7 164.4,492.9 172.8,494.1 181.2,495.0 189.7,497.1 198.1,499.6 206.6,501.0 215.0,500.8 223.4,499.7 231.9,498.2 240.3,496.2 248.8,494.3 257.2,493.2 265.6,491.8 274.1,491.1 282.5,488.8 291.0,485.0 299.4,480.7 307.8,480.4 316.3,480.4 324.7,479.2 333.2,475.2 341.6,469.7 350.0,462.7 358.5,456.5 366.9,451.0 375.4,447.1 383.8,443.3 392.2,439.7 400.7,436.4 409.1,432.9 417.6,429.9 426.0,426.9 434.4,426.0 442.9,425.0 451.3,424.6 459.8,423.5 468.2,421.1 476.6,415.1 485.1,405.8 493.5,394.2 502.0,383.9 510.4,375.9 518.9,371.0 527.3,366.6 535.7,363.3 544.2,360.4 552.6,360.1 561.0,362.0 569.5,365.2 577.9,367.5 586.4,368.6 594.8,368.8 603.2,367.8 611.7,366.4 620.1,363.2 628.6,358.5 637.0,352.8 645.4,347.3 653.9,342.6 662.3,339.3 670.8,335.3 679.2,332.8 687.6,330.4 696.1,330.6 704.5,331.4 713.0,334.3 721.4,336.4 729.8,337.4 738.3,336.3 746.7,334.5 755.2,332.1 763.6,330.7 772.0,328.2 780.5,325.0 788.9,319.1 797.4,313.0 805.8,308.0 814.2,304.5 822.7,302.2 831.1,301.0 839.6,301.7 848.0,304.2 856.4,308.7 864.9,313.4 873.3,316.7 881.8,317.4 890.2,316.3 898.6,314.0 907.1,309.5 915.5,302.0 924.0,293.2 932.4,282.6 940.8,275.0 949.3,268.4 957.7,265.0 966.2,263.3 974.6,264.5 983.0,266.7 991.5,270.9 999.9,275.7 1008.4,280.8 1016.8,283.8 1025.2,284.4 1033.7,282.1 1042.1,276.5 1050.6,267.7 1059.0,257.6 1067.5,248.1 1075.9,241.5 1084.3,236.7 1092.8,233.7 1101.2,232.9 1109.7,234.5 1118.1,237.8 1126.5,242.0 1135.0,245.5 1143.4,249.5 1151.9,252.6 1160.3,255.9 1168.7,257.5 1177.2,257.3 1185.6,253.3 1194.0,246.5 1202.5,237.7 1210.9,229.5 1219.4,222.1 1227.8,216.8 1236.2,217.3"/>
<path d="M54.6,488.3 63.1,484.2 71.5,479.9 80.0,477.4 88.4,477.8 96.8,476.9 105.3,475.9 113.7,475.9 122.2,475.6 130.6,472.7 139.0,473.1 147.5,474.0 155.9,475.1 164.4,475.3 172.8,475.0 181.2,474.0 189.7,476.6 198.1,477.9 206.6,478.0 215.0,477.1 223.4,477.4 231.9,477.5 240.3,476.8 248.8,474.3 257.2,471.8 265.6,468.5 274.1,465.9 282.5,463.0 291.0,459.2 299.4,456.6 307.8,454.2 316.3,451.3 324.7,446.1 333.2,439.7 341.6,432.3 350.0,426.2 358.5,419.8 366.9,415.0 375.4,410.8 383.8,408.4 392.2,406.0 400.7,404.0 409.1,402.2 417.6,401.1 426.0,400.5 434.4,400.0 442.9,399.7 451.3,398.7 459.8,396.6 468.2,393.5 476.6,390.7 485.1,390.0 493.5,391.3 502.0,394.2 510.4,396.4 518.9,398.8 527.3,399.5 535.7,399.5 544.2,397.8 552.6,394.8 561.0,391.0 569.5,388.4 577.9,386.0 586.4,384.5 594.8,384.2 603.2,386.7 611.7,390.0 620.1,393.0 628.6,395.9 637.0,398.0 645.4,398.6 653.9,395.6 662.3,390.1 670.8,380.1 679.2,367.8 687.6,355.8 696.1,346.7 704.5,343.4 713.0,347.3 721.4,356.4 729.8,367.7 738.3,377.7 746.7,385.9 755.2,390.8 763.6,393.4 772.0,395.0 780.5,395.4 788.9,395.2 797.4,394.2 805.8,394.3 814.2,394.9 822.7,396.4 831.1,396.4 839.6,397.2 848.0,398.5 856.4,399.8 864.9,400.3 873.3,399.7 881.8,399.6 890.2,398.7 898.6,397.3 907.1,394.7 915.5,392.5 924.0,390.5 932.4,389.4 940.8,388.3 949.3,387.4 957.7,385.5 966.2,383.5 974.6,380.8 983.0,378.2 991.5,375.3 999.9,372.8 1008.4,370.6 1016.8,368.0 1025.2,365.9 1033.7,363.4 1042.1,361.3 1050.6,358.6 1059.0,356.1 1067.5,353.0 1075.9,352.3 1084.3,351.0 1092.8,350.2 1101.2,347.8 1109.7,344.5 1118.1,339.6 1126.5,334.9 1135.0,330.4 1143.4,328.0 1151.9,327.9 1160.3,331.6 1168.7,336.9 1177.2,342.5 1185.6,345.9 1194.0,346.6 1202.5,344.9 1210.9,340.0 1219.4,331.6 1227.8,321.5 1236.2,317.0"/>
<path d="M54.6,488.7 63.1,484.9 71.5,480.9 80.0,478.8 88.4,478.8 96.8,477.4 105.3,475.5 113.7,475.2 122.2,474.6 130.6,471.6 139.0,471.2 147.5,471.5 155.9,471.5 164.4,472.8 172.8,475.2 181.2,478.9 189.7,483.7 198.1,484.1 206.6,482.1 215.0,479.3 223.4,478.6 231.9,477.2 240.3,476.6 248.8,474.9 257.2,474.9 265.6,473.3 274.1,473.4 282.5,474.0 291.0,474.1 299.4,472.6 307.8,469.4 316.3,463.9 324.7,455.5 333.2,446.1 341.6,437.3 350.0,431.0 358.5,426.1 366.9,421.5 375.4,416.8 383.8,414.1 392.2,413.8 400.7,415.8 409.1,416.5 417.6,415.0 426.0,410.2 434.4,403.6 442.9,395.4 451.3,388.6 459.8,383.2 468.2,379.1 476.6,374.9 485.1,372.4 493.5,373.0 502.0,376.0 510.4,378.4 518.9,378.6 527.3,376.6 535.7,372.2 544.2,367.8 552.6,362.6 561.0,359.3 569.5,356.9 577.9,357.3 586.4,360.6 594.8,366.1 603.2,372.7 611.7,379.4 620.1,385.6 628.6,389.9 637.0,391.1 645.4,389.8 653.9,387.3 662.3,384.8 670.8,383.0 679.2,384.3 687.6,390.4 696.1,398.7 704.5,406.1 713.0,410.7 721.4,412.4 729.8,412.0 738.3,409.6 746.7,407.6 755.2,405.3 763.6,404.0 772.0,401.9 780.5,400.5 788.9,399.8 797.4,401.1 805.8,402.7 814.2,403.9 822.7,404.2 831.1,403.7 839.6,402.7 848.0,402.3 856.4,401.6 864.9,401.1 873.3,398.8 881.8,395.5 890.2,391.4 898.6,386.5 907.1,382.2 915.5,378.7 924.0,378.2 932.4,379.6 940.8,381.1 949.3,381.1 957.7,378.4 966.2,374.7 974.6,369.3 983.0,364.1 991.5,358.2 999.9,353.7 1008.4,351.1 1016.8,351.0 1025.2,351.7 1033.7,352.7 1042.1,352.6 1050.6,350.6 1059.0,346.8 1067.5,342.1 1075.9,338.2 1084.3,332.2 1092.8,323.0 1101.2,311.8 1109.7,302.5 1118.1,298.4 1126.5,298.3 1135.0,302.2 1143.4,308.0 1151.9,315.5 1160.3,321.7 1168.7,325.0 1177.2,323.0 1185.6,313.8 1194.0,297.9 1202.5,279.9 1210.9,265.9 1219.4,257.8 1227.8,256.9 1236.2,267.4"/>
<path d="M54.6,491.5 63.1,488.2 71.5,485.1 80.0,484.4 88.4,485.5 96.8,485.2 105.3,484.2 113.7,484.3 122.2,483.8 130.6,480.4 139.0,481.2 147.5,481.9 155.9,482.9 164.4,484.0 172.8,486.3 181.2,489.3 189.7,494.2 198.1,496.8 206.6,496.7 215.0,494.5 223.4,492.0 231.9,489.7 240.3,486.8 248.8,483.7 257.2,480.1 265.6,477.1 274.1,474.9 282.5,473.1 291.0,469.7 299.4,466.7 307.8,464.9 316.3,463.2 324.7,460.1 333.2,453.9 341.6,445.3 350.0,436.7 358.5,430.2 366.9,426.7 375.4,423.5 383.8,421.4 392.2,420.0 400.7,421.2 409.1,422.6 417.6,422.8 426.0,422.1 434.4,419.9 442.9,416.3 451.3,410.6 459.8,405.7 468.2,401.9 476.6,400.8 485.1,401.4 493.5,403.5 502.0,404.0 510.4,402.4 518.9,401.0 527.3,400.2 535.7,399.0 544.2,394.9 552.6,387.2 561.0,379.1 569.5,373.1 577.9,370.9 586.4,369.5 594.8,370.4 603.2,371.7 611.7,376.7 620.1,383.5 628.6,392.0 637.0,398.4 645.4,401.3 653.9,399.7 662.3,394.8 670.8,387.1 679.2,380.1 687.6,375.8 696.1,374.1 704.5,373.8 713.0,375.3 721.4,376.9 729.8,379.0 738.3,380.4 746.7,381.1 755.2,379.4 763.6,374.5 772.0,366.4 780.5,354.7 788.9,341.4 797.4,329.8 805.8,324.4 814.2,324.9 822.7,329.9 831.1,335.8 839.6,341.0 848.0,344.0 856.4,344.1 864.9,342.0 873.3,338.6 881.8,336.1 890.2,333.8 898.6,332.7 907.1,333.0 915.5,335.9 924.0,341.7 932.4,348.3 940.8,352.9 949.3,354.0 957.7,353.0 966.2,350.2 974.6,346.5 983.0,341.5 991.5,336.0 999.9,330.7 1008.4,327.8 1016.8,328.3 1025.2,331.4 1033.7,336.2 1042.1,340.8 1050.6,344.1 1059.0,345.2 1067.5,345.0 1075.9,344.4 1084.3,343.1 1092.8,340.2 1101.2,336.9 1109.7,333.2 1118.1,331.0 1126.5,330.0 1135.0,331.4 1143.4,333.9 1151.9,338.4 1160.3,343.6 1168.7,349.4 1177.2,354.1 1185.6,356.1 1194.0,356.3 1202.5,354.7 1210.9,352.7 1219.4,348.1 1227.8,342.7 1236.2,342.0"/>
<path d="M54.6,491.8 63.1,487.9 71.5,483.8 80.0,481.1 88.4,480.6 96.8,479.2 105.3,478.7 113.7,480.2 122.2,481.4 130.6,479.3 139.0,480.9 147.5,483.1 155.9,484.8 164.4,485.5 172.8,485.2 181.2,485.3 189.7,487.2 198.1,487.9 206.6,487.2 215.0,486.0 223.4,486.1 231.9,486.2 240.3,485.4 248.8,483.5 257.2,482.0 265.6,480.1 274.1,479.5 282.5,478.2 291.0,476.6 299.4,474.7 307.8,475.2 316.3,475.1 324.7,474.2 333.2,470.9 341.6,466.7 350.0,461.4 358.5,457.9 366.9,455.0 375.4,453.3 383.8,449.1 392.2,445.9 400.7,442.4 409.1,441.5 417.6,438.2 426.0,435.2 434.4,431.6 442.9,431.0 451.3,430.7 459.8,431.4 468.2,430.5 476.6,428.7 485.1,425.6 493.5,422.3 502.0,418.7 510.4,415.6 518.9,412.2 527.3,408.5 535.7,404.2 544.2,400.6 552.6,398.7 561.0,398.0 569.5,398.2 577.9,397.4 586.4,396.2 594.8,395.8 603.2,394.7 611.7,392.2 620.1,389.7 628.6,386.9 637.0,385.8 645.4,383.3 653.9,381.9 662.3,380.3 670.8,377.9 679.2,375.8 687.6,375.7 696.1,377.1 704.5,377.7 713.0,377.1 721.4,377.2 729.8,378.2 738.3,379.4 746.7,378.5 755.2,377.5 763.6,376.8 772.0,377.6 780.5,377.4 788.9,376.2 797.4,375.3 805.8,375.7 814.2,377.0 822.7,377.4 831.1,377.1 839.6,378.1 848.0,380.5 856.4,383.2 864.9,385.4 873.3,386.3 881.8,386.0 890.2,384.3 898.6,381.6 907.1,377.6 915.5,372.4 924.0,364.4 932.4,353.2 940.8,339.2 949.3,325.7 957.7,312.7 966.2,300.0 974.6,287.8 983.0,276.6 991.5,267.6 999.9,261.3 1008.4,258.8 1016.8,258.4 1025.2,258.9 1033.7,259.0 1042.1,259.3 1050.6,259.1 1059.0,258.0 1067.5,254.8 1075.9,250.7 1084.3,246.4 1092.8,242.1 1101.2,238.5 1109.7,234.2 1118.1,231.3 1126.5,229.2 1135.0,228.4 1143.4,228.7 1151.9,229.6 1160.3,231.0 1168.7,231.9 1177.2,233.2 1185.6,234.1 1194.0,236.0 1202.5,238.6 1210.9,241.7 1219.4,243.7 1227.8,244.3 1236.2,248.2"/>
<path d="M54.6,495.4 63.1,492.5 71.5,489.4 80.0,487.6 88.4,487.0 96.8,484.8 105.3,482.9 113.7,483.1 122.2,484.3 130.6,482.7 139.0,485.2 147.5,487.3 155.9,489.3 164.4,490.4 172.8,490.5 181.2,490.5 189.7,491.7 198.1,492.2 206.6,491.9 215.0,491.3 223.4,491.3 231.9,490.5 240.3,488.6 248.8,487.4 257.2,487.4 265.6,488.2 274.1,489.0 282.5,489.0 291.0,487.0 299.4,484.4 307.8,482.6 316.3,481.1 324.7,478.9 333.2,476.8 341.6,471.8 350.0,464.8 358.5,456.5 366.9,450.5 375.4,445.4 383.8,440.8 392.2,435.4 400.7,430.3 409.1,425.6 417.6,420.6 426.0,415.0 434.4,410.4 442.9,407.0 451.3,403.7 459.8,399.1 468.2,392.8 476.6,386.4 485.1,380.6 493.5,375.3 502.0,370.1 510.4,364.8 518.9,361.6 527.3,359.3 535.7,357.9 544.2,356.4 552.6,355.3 561.0,355.0 569.5,354.2 577.9,352.4 586.4,350.2 594.8,349.4 603.2,349.7 611.7,351.9 620.1,353.5 628.6,353.5 637.0,350.7 645.4,345.8 653.9,341.2 662.3,336.7 670.8,332.5 679.2,328.4 687.6,325.0 696.1,321.4 704.5,318.0 713.0,315.5 721.4,313.7 729.8,311.4 738.3,307.8 746.7,302.0 755.2,295.1 763.6,287.0 772.0,278.5 780.5,268.9 788.9,260.7 797.4,256.2 805.8,255.5 814.2,256.2 822.7,257.2 831.1,259.8 839.6,263.8 848.0,267.8 856.4,271.1 864.9,271.9 873.3,271.9 881.8,270.2 890.2,268.5 898.6,265.6 907.1,263.1 915.5,260.9 924.0,258.5 932.4,255.8 940.8,253.2 949.3,252.7 957.7,252.9 966.2,254.3 974.6,255.1 983.0,257.1 991.5,260.3 999.9,265.9 1008.4,273.2 1016.8,281.7 1025.2,289.9 1033.7,295.9 1042.1,299.8 1050.6,300.2 1059.0,299.8 1067.5,297.1 1075.9,293.8 1084.3,289.0 1092.8,284.7 1101.2,281.7 1109.7,279.3 1118.1,278.4 1126.5,277.5 1135.0,278.9 1143.4,281.0 1151.9,283.8 1160.3,285.1 1168.7,285.1 1177.2,284.0 1185.6,281.7 1194.0,278.3 1202.5,274.7 1210.9,271.1 1219.4,268.3 1227.8,266.5 1236.2,270.7"/>
<path d="M54.6,489.6 63.1,485.9 71.5,481.8 80.0,479.5 88.4,479.6 96.8,479.2 105.3,479.1 113.7,480.8 122.2,481.0 130.6,478.5 139.0,479.6 147.5,481.9 155.9,483.5 164.4,483.8 172.8,483.6 181.2,483.9 189.7,486.4 198.1,488.0 206.6,487.2 215.0,486.7 223.4,486.3 231.9,486.8 240.3,484.8 248.8,482.2 257.2,479.0 265.6,477.0 274.1,474.6 282.5,473.0 291.0,470.2 299.4,469.2 307.8,468.2 316.3,465.6 324.7,461.2 333.2,456.5 341.6,453.2 350.0,451.1 358.5,450.2 366.9,449.7 375.4,448.4 383.8,447.2 392.2,445.4 400.7,444.2 409.1,440.2 417.6,435.3 426.0,430.0 434.4,427.4 442.9,425.8 451.3,423.6 459.8,421.6 468.2,418.2 476.6,414.9 485.1,410.5 493.5,407.7 502.0,405.2 510.4,402.5 518.9,399.6 527.3,397.8 535.7,397.4 544.2,397.4 552.6,396.1 561.0,394.9 569.5,395.5 577.9,396.6 586.4,397.8 594.8,397.8 603.2,398.4 611.7,398.7 620.1,399.6 628.6,400.0 637.0,400.9 645.4,402.0 653.9,403.0 662.3,403.2 670.8,400.2 679.2,395.3 687.6,390.1 696.1,385.5 704.5,381.6 713.0,378.8 721.4,376.5 729.8,374.6 738.3,373.4 746.7,371.9 755.2,370.3 763.6,367.6 772.0,365.9 780.5,363.3 788.9,361.6 797.4,358.9 805.8,358.3 814.2,357.5 822.7,357.5 831.1,356.3 839.6,355.5 848.0,356.0 856.4,358.0 864.9,360.5 873.3,362.1 881.8,362.1 890.2,361.9 898.6,362.1 907.1,362.5 915.5,363.0 924.0,363.0 932.4,361.0 940.8,357.8 949.3,353.6 957.7,350.4 966.2,347.0 974.6,344.5 983.0,341.4 991.5,337.2 999.9,331.6 1008.4,326.3 1016.8,322.4 1025.2,320.4 1033.7,320.4 1042.1,320.8 1050.6,321.2 1059.0,320.3 1067.5,319.9 1075.9,319.9 1084.3,320.1 1092.8,319.9 1101.2,318.5 1109.7,317.3 1118.1,315.7 1126.5,314.6 1135.0,312.7 1143.4,310.4 1151.9,307.6 1160.3,305.0 1168.7,301.9 1177.2,299.0 1185.6,294.7 1194.0,289.8 1202.5,284.4 1210.9,279.4 1219.4,273.6 1227.8,266.7 1236.2,264.0"/>
<path d="M54.6,491.3 63.1,488.2 71.5,484.6 80.0,482.4 88.4,481.7 96.8,480.2 105.3,478.7 113.7,478.9 122.2,478.9 130.6,476.3 139.0,477.1 147.5,477.7 155.9,478.0 164.4,477.3 172.8,476.3 181.2,475.5 189.7,478.0 198.1,481.0 206.6,482.5 215.0,483.5 223.4,483.4 231.9,484.3 240.3,484.6 248.8,484.9 257.2,484.6 265.6,482.8 274.1,481.9 282.5,480.8 291.0,478.9 299.4,477.0 307.8,476.5 316.3,476.2 324.7,473.6 333.2,469.7 341.6,463.7 350.0,457.8 358.5,453.9 366.9,451.6 375.4,448.7 383.8,443.1 392.2,437.6 400.7,433.5 409.1,430.8 417.6,426.6 426.0,421.3 434.4,415.7 442.9,411.7 451.3,408.6 459.8,406.7 468.2,404.2 476.6,401.6 485.1,397.5 493.5,392.0 502.0,384.8 510.4,378.9 518.9,374.0 527.3,371.2 535.7,368.2 544.2,365.2 552.6,360.1 561.0,355.2 569.5,351.4 577.9,349.5 586.4,348.9 594.8,348.4 603.2,347.1 611.7,345.5 620.1,343.2 628.6,341.3 637.0,339.2 645.4,337.1 653.9,333.6 662.3,328.8 670.8,321.9 679.2,314.1 687.6,306.9 696.1,300.5 704.5,295.1 713.0,291.9 721.4,290.8 729.8,291.9 738.3,293.1 746.7,294.8 755.2,296.6 763.6,299.5 772.0,302.9 780.5,305.9 788.9,308.2 797.4,309.5 805.8,310.5 814.2,310.1 822.7,309.0 831.1,307.6 839.6,307.5 848.0,308.5 856.4,310.4 864.9,312.3 873.3,314.7 881.8,316.8 890.2,319.1 898.6,320.8 907.1,322.4 915.5,321.9 924.0,319.1 932.4,314.2 940.8,310.5 949.3,308.1 957.7,306.6 966.2,304.5 974.6,301.5 983.0,298.6 991.5,296.1 999.9,296.3 1008.4,297.4 1016.8,299.5 1025.2,299.9 1033.7,299.3 1042.1,297.6 1050.6,294.3 1059.0,289.9 1067.5,282.6 1075.9,274.9 1084.3,265.6 1092.8,257.6 1101.2,249.0 1109.7,241.5 1118.1,233.9 1126.5,227.8 1135.0,221.7 1143.4,217.5 1151.9,214.5 1160.3,212.8 1168.7,211.8 1177.2,211.9 1185.6,212.7 1194.0,213.7 1202.5,214.3 1210.9,214.7 1219.4,214.0 1227.8,213.1 1236.2,216.5"/>
<path d="M54.6,489.2 63.1,484.9 71.5,480.3 80.0,477.7 88.4,477.9 96.8,477.1 105.3,476.1 113.7,476.8 122.2,477.5 130.6,476.4 139.0,478.7 147.5,482.2 155.9,484.1 164.4,485.0 172.8,483.9 181.2,483.8 189.7,485.1 198.1,487.3 206.6,488.1 215.0,489.3 223.4,490.1 231.9,491.2 240.3,491.6 248.8,491.9 257.2,491.8 265.6,490.7 274.1,489.0 282.5,486.2 291.0,481.5 299.4,475.9 307.8,470.7 316.3,463.4 324.7,454.9 333.2,445.9 341.6,438.7 350.0,432.8 358.5,427.9 366.9,422.6 375.4,418.7 383.8,416.0 392.2,413.9 400.7,412.1 409.1,409.9 417.6,408.1 426.0,405.5 434.4,403.2 442.9,400.7 451.3,398.5 459.8,394.9 468.2,390.3 476.6,384.6 485.1,380.0 493.5,376.0 502.0,372.0 510.4,367.5 518.9,363.2 527.3,360.4 535.7,358.4 544.2,358.0 552.6,357.9 561.0,358.9 569.5,360.2 577.9,360.3 586.4,359.8 594.8,358.5 603.2,357.9 611.7,356.1 620.1,354.0 628.6,352.8 637.0,354.0 645.4,357.7 653.9,363.1 662.3,371.7 670.8,380.8 679.2,390.3 687.6,397.9 696.1,403.0 704.5,404.4 713.0,403.5 721.4,399.8 729.8,395.6 738.3,390.3 746.7,385.8 755.2,380.4 763.6,376.2 772.0,372.4 780.5,369.1 788.9,365.6 797.4,361.8 805.8,357.7 814.2,353.5 822.7,349.0 831.1,344.1 839.6,338.2 848.0,331.9 856.4,324.6 864.9,318.9 873.3,315.6 881.8,315.4 890.2,316.9 898.6,319.2 907.1,320.3 915.5,320.4 924.0,321.4 932.4,326.5 940.8,335.5 949.3,345.6 957.7,354.6 966.2,362.4 974.6,368.4 983.0,371.9 991.5,372.9 999.9,372.1 1008.4,370.9 1016.8,369.3 1025.2,367.1 1033.7,363.7 1042.1,359.3 1050.6,353.6 1059.0,347.8 1067.5,342.0 1075.9,337.0 1084.3,331.8 1092.8,328.3 1101.2,326.3 1109.7,326.0 1118.1,325.4 1126.5,324.8 1135.0,323.1 1143.4,319.3 1151.9,312.7 1160.3,303.7 1168.7,293.9 1177.2,285.4 1185.6,279.5 1194.0,276.5 1202.5,276.2 1210.9,277.9 1219.4,280.3 1227.8,282.5 1236.2,288.3"/>
<path d="M54.6,489.0 63.1,485.4 71.5,481.8 80.0,479.9 88.4,479.3 96.8,478.0 105.3,477.6 113.7,479.7 122.2,481.2 130.6,478.4 139.0,478.8 147.5,478.7 155.9,478.2 164.4,477.1 172.8,476.0 181.2,475.6 189.7,477.6 198.1,479.5 206.6,480.3 215.0,480.8 223.4,481.7 231.9,482.2 240.3,481.7 248.8,479.2 257.2,476.6 265.6,474.1 274.1,472.7 282.5,470.6 291.0,466.5 299.4,461.5 307.8,456.3 316.3,450.9 324.7,445.2 333.2,440.0 341.6,435.5 350.0,433.0 358.5,432.4 366.9,432.7 375.4,432.4 383.8,431.2 392.2,429.2 400.7,427.5 409.1,424.6 417.6,421.9 426.0,418.8 434.4,416.0 442.9,412.6 451.3,408.8 459.8,405.7 468.2,403.0 476.6,401.1 485.1,399.9 493.5,400.0 502.0,401.2 510.4,402.7 518.9,403.3 527.3,403.5 535.7,402.2 544.2,401.4 552.6,398.9 561.0,397.0 569.5,396.5 577.9,395.7 586.4,394.5 594.8,391.1 603.2,388.5 611.7,385.8 620.1,384.5 628.6,384.1 637.0,385.3 645.4,388.3 653.9,390.7 662.3,392.5 670.8,390.0 679.2,385.6 687.6,378.5 696.1,367.3 704.5,352.7 713.0,336.1 721.4,322.5 729.8,311.1 738.3,302.9 746.7,295.8 755.2,291.2 763.6,287.8 772.0,286.3 780.5,287.1 788.9,292.0 797.4,301.5 805.8,312.0 814.2,319.8 822.7,323.3 831.1,323.3 839.6,321.6 848.0,318.1 856.4,313.6 864.9,307.2 873.3,302.0 881.8,298.3 890.2,297.0 898.6,297.2 907.1,298.7 915.5,301.6 924.0,306.7 932.4,310.9 940.8,312.6 949.3,310.5 957.7,307.5 966.2,302.6 974.6,297.6 983.0,292.1 991.5,286.1 999.9,278.5 1008.4,271.1 1016.8,265.3 1025.2,262.2 1033.7,260.0 1042.1,259.8 1050.6,261.8 1059.0,267.9 1067.5,276.9 1075.9,286.9 1084.3,296.0 1092.8,304.4 1101.2,311.4 1109.7,316.7 1118.1,319.4 1126.5,321.4 1135.0,322.2 1143.4,322.6 1151.9,321.0 1160.3,319.7 1168.7,319.1 1177.2,321.7 1185.6,326.4 1194.0,333.2 1202.5,339.3 1210.9,345.2 1219.4,348.9 1227.8,351.6 1236.2,356.7"/>
<path d="M54.6,493.0 63.1,490.3 71.5,487.2 80.0,485.6 88.4,485.4 96.8,483.6 105.3,481.2 113.7,481.2 122.2,481.6 130.6,480.5 139.0,482.6 147.5,484.2 155.9,484.3 164.4,483.6 172.8,483.0 181.2,482.5 189.7,483.7 198.1,484.1 206.6,483.9 215.0,484.5 223.4,485.9 231.9,486.9 240.3,485.5 248.8,483.0 257.2,481.1 265.6,479.2 274.1,477.0 282.5,473.2 291.0,468.2 299.4,465.2 307.8,463.1 316.3,461.3 324.7,457.0 333.2,451.8 341.6,445.5 350.0,441.3 358.5,439.0 366.9,438.9 375.4,438.3 383.8,437.0 392.2,435.6 400.7,434.5 409.1,433.7 417.6,430.9 426.0,426.9 434.4,422.7 442.9,419.4 451.3,417.5 459.8,415.3 468.2,412.7 476.6,408.4 485.1,403.5 493.5,397.3 502.0,391.0 510.4,384.3 518.9,378.6 527.3,373.3 535.7,368.7 544.2,365.1 552.6,363.5 561.0,365.8 569.5,371.4 577.9,377.7 586.4,384.2 594.8,389.3 603.2,392.8 611.7,394.4 620.1,395.7 628.6,395.7 637.0,394.0 645.4,391.0 653.9,387.7 662.3,384.5 670.8,378.7 679.2,372.1 687.6,365.5 696.1,358.4 704.5,350.5 713.0,341.9 721.4,334.8 729.8,329.0 738.3,325.6 746.7,323.6 755.2,323.9 763.6,325.9 772.0,330.6 780.5,338.4 788.9,347.9 797.4,357.2 805.8,361.8 814.2,362.8 822.7,359.1 831.1,352.6 839.6,342.7 848.0,332.0 856.4,322.4 864.9,317.7 873.3,319.1 881.8,324.0 890.2,330.5 898.6,336.8 907.1,342.9 915.5,347.9 924.0,351.1 932.4,350.6 940.8,346.7 949.3,341.4 957.7,337.1 966.2,334.9 974.6,334.5 983.0,335.0 991.5,335.3 999.9,336.1 1008.4,337.2 1016.8,338.3 1025.2,333.2 1033.7,325.4 1042.1,317.5 1050.6,309.3 1059.0,301.0 1067.5,292.4 1075.9,283.5 1084.3,274.5 1092.8,265.5 1101.2,256.8 1109.7,248.9 1118.1,241.4 1126.5,232.9 1135.0,222.3 1143.4,205.8 1151.9,189.5 1160.3,177.1 1168.7,167.3 1177.2,159.2 1185.6,152.4 1194.0,146.4 1202.5,139.2 1210.9,129.3 1219.4,119.4 1227.8,110.1 1236.2,101.2"/>
<path d="M54.6,493.0 63.1,489.7 71.5,485.7 80.0,483.1 88.4,482.2 96.8,480.6 105.3,479.3 113.7,480.3 122.2,481.6 130.6,480.4 139.0,482.9 147.5,485.3 155.9,487.5 164.4,489.2 172.8,490.5 181.2,492.0 189.7,494.3 198.1,495.4 206.6,495.6 215.0,495.2 223.4,495.3 231.9,494.8 240.3,492.6 248.8,490.2 257.2,488.3 265.6,487.8 274.1,488.3 282.5,488.6 291.0,487.6 299.4,485.7 307.8,484.9 316.3,482.4 324.7,477.6 333.2,471.1 341.6,463.5 350.0,456.4 358.5,450.9 366.9,446.8 375.4,443.5 383.8,440.0 392.2,437.5 400.7,435.8 409.1,434.5 417.6,433.0 426.0,431.4 434.4,430.9 442.9,429.9 451.3,428.2 459.8,424.1 468.2,419.0 476.6,411.4 485.1,402.9 493.5,393.3 502.0,385.6 510.4,380.4 518.9,376.9 527.3,374.0 535.7,370.9 544.2,369.5 552.6,369.5 561.0,371.6 569.5,374.4 577.9,377.0 586.4,380.7 594.8,385.0 603.2,390.6 611.7,395.0 620.1,399.2 628.6,401.5 637.0,403.9 645.4,405.1 653.9,406.7 662.3,407.9 670.8,408.1 679.2,407.1 687.6,406.8 696.1,406.8 704.5,406.8 713.0,405.3 721.4,402.2 729.8,398.5 738.3,396.3 746.7,394.4 755.2,391.7 763.6,386.0 772.0,378.0 780.5,367.6 788.9,355.5 797.4,344.7 805.8,338.2 814.2,337.9 822.7,341.0 831.1,346.0 839.6,350.8 848.0,356.8 856.4,362.8 864.9,367.5 873.3,369.3 881.8,367.7 890.2,364.4 898.6,358.7 907.1,352.8 915.5,346.2 924.0,340.0 932.4,334.0 940.8,329.0 949.3,324.7 957.7,320.8 966.2,317.1 974.6,314.5 983.0,311.9 991.5,309.6 999.9,305.8 1008.4,301.0 1016.8,294.3 1025.2,287.2 1033.7,278.8 1042.1,269.7 1050.6,258.7 1059.0,246.6 1067.5,234.4 1075.9,224.3 1084.3,217.3 1092.8,212.6 1101.2,210.7 1109.7,209.0 1118.1,208.8 1126.5,208.7 1135.0,209.7 1143.4,211.8 1151.9,215.9 1160.3,221.0 1168.7,226.7 1177.2,230.2 1185.6,230.7 1194.0,227.5 1202.5,222.7 1210.9,217.4 1219.4,212.3 1227.8,208.6 1236.2,210.8"/>
<path d="M54.6,490.8 63.1,487.1 71.5,483.0 80.0,480.6 88.4,480.0 96.8,478.5 105.3,477.0 113.7,477.1 122.2,476.8 130.6,474.1 139.0,475.1 147.5,476.4 155.9,476.3 164.4,474.9 172.8,473.5 181.2,473.1 189.7,476.1 198.1,478.0 206.6,477.9 215.0,477.1 223.4,477.2 231.9,478.1 240.3,478.2 248.8,477.5 257.2,476.5 265.6,474.0 274.1,471.9 282.5,469.6 291.0,468.0 299.4,466.3 307.8,466.6 316.3,465.0 324.7,461.8 333.2,454.5 341.6,447.0 350.0,439.9 358.5,436.7 366.9,434.0 375.4,431.6 383.8,427.0 392.2,424.3 400.7,422.1 409.1,420.5 417.6,416.5 426.0,413.1 434.4,411.0 442.9,409.2 451.3,406.8 459.8,403.3 468.2,400.6 476.6,397.9 485.1,395.6 493.5,392.8 502.0,389.6 510.4,385.7 518.9,381.3 527.3,377.9 535.7,376.6 544.2,378.4 552.6,381.2 561.0,391.0 569.5,399.5 577.9,407.9 586.4,415.6 594.8,422.5 603.2,428.7 611.7,434.8 620.1,441.3 628.6,450.9 637.0,460.8 645.4,469.2 653.9,477.9 662.3,487.3 670.8,495.4 679.2,502.0 687.6,508.4 696.1,516.1 704.5,520.0 713.0,520.0 721.4,520.0 729.8,521.6 738.3,523.0 746.7,522.0 755.2,523.8 763.6,527.1 772.0,528.5 780.5,527.4 788.9,525.3 797.4,522.4 805.8,518.0 814.2,512.0 822.7,505.8 831.1,502.1 839.6,498.7 848.0,494.1 856.4,489.4 864.9,485.0 873.3,480.4 881.8,474.7 890.2,468.4 898.6,461.6 907.1,454.1 915.5,444.5 924.0,434.6 932.4,426.5 940.8,419.0 949.3,411.8 957.7,403.5 966.2,394.8 974.6,386.2 983.0,377.8 991.5,369.7 999.9,361.7 1008.4,354.0 1016.8,346.9 1025.2,340.4 1033.7,333.7 1042.1,326.1 1050.6,317.5 1059.0,308.2 1067.5,298.8 1075.9,289.5 1084.3,280.2 1092.8,270.6 1101.2,260.5 1109.7,251.0 1118.1,240.9 1126.5,228.1 1135.0,206.4 1143.4,185.2 1151.9,169.1 1160.3,156.1 1168.7,145.1 1177.2,135.4 1185.6,126.8 1194.0,117.4 1202.5,105.6 1210.9,93.0 1219.4,80.8 1227.8,71.2 1236.2,68.1"/>
<path d="M54.6,493.6 63.1,490.7 71.5,487.8 80.0,486.2 88.4,486.2 96.8,484.7 105.3,483.4 113.7,483.6 122.2,484.0 130.6,481.5 139.0,483.1 147.5,484.8 155.9,486.8 164.4,488.8 172.8,491.4 181.2,493.7 189.7,495.7 198.1,495.2 206.6,493.4 215.0,492.3 223.4,492.4 231.9,491.5 240.3,489.4 248.8,485.2 257.2,481.6 265.6,477.6 274.1,475.1 282.5,473.1 291.0,470.3 299.4,467.5 307.8,463.4 316.3,459.2 324.7,454.7 333.2,453.0 341.6,450.9 350.0,449.3 358.5,446.6 366.9,445.3 375.4,442.9 383.8,439.3 392.2,434.8 400.7,430.6 409.1,427.9 417.6,425.5 426.0,423.4 434.4,420.9 442.9,417.6 451.3,413.8 459.8,411.3 468.2,410.7 476.6,411.4 485.1,412.4 493.5,411.9 502.0,409.9 510.4,405.6 518.9,401.9 527.3,399.7 535.7,399.0 544.2,397.5 552.6,396.1 561.0,396.2 569.5,399.9 577.9,402.2 586.4,404.1 594.8,407.3 603.2,411.2 611.7,414.9 620.1,418.5 628.6,422.2 637.0,425.4 645.4,427.9 653.9,430.2 662.3,432.0 670.8,432.7 679.2,431.4 687.6,428.7 696.1,425.5 704.5,421.3 713.0,416.6 721.4,411.7 729.8,406.3 738.3,401.3 746.7,396.9 755.2,393.9 763.6,393.2 772.0,392.9 780.5,393.0 788.9,395.5 797.4,398.9 805.8,402.9 814.2,407.1 822.7,410.8 831.1,414.5 839.6,418.1 848.0,421.9 856.4,425.7 864.9,429.8 873.3,434.2 881.8,438.2 890.2,442.2 898.6,445.8 907.1,448.0 915.5,449.0 924.0,447.7 932.4,445.5 940.8,443.2 949.3,440.4 957.7,436.6 966.2,433.1 974.6,430.3 983.0,428.0 991.5,425.9 999.9,424.0 1008.4,422.4 1016.8,421.3 1025.2,420.7 1033.7,419.8 1042.1,417.6 1050.6,414.7 1059.0,411.6 1067.5,408.2 1075.9,404.3 1084.3,398.7 1092.8,391.2 1101.2,386.6 1109.7,385.3 1118.1,386.5 1126.5,386.8 1135.0,382.1 1143.4,378.8 1151.9,376.3 1160.3,372.7 1168.7,368.7 1177.2,365.6 1185.6,363.8 1194.0,362.3 1202.5,361.3 1210.9,361.0 1219.4,361.9 1227.8,363.7 1236.2,366.4"/>
<path d="M54.6,493.0 63.1,488.4 71.5,483.6 80.0,480.1 88.4,479.5 96.8,477.6 105.3,476.6 113.7,477.4 122.2,478.3 130.6,476.2 139.0,477.6 147.5,479.5 155.9,481.8 164.4,482.8 172.8,483.7 181.2,483.4 189.7,485.0 198.1,485.2 206.6,485.4 215.0,486.0 223.4,487.5 231.9,488.7 240.3,487.6 248.8,486.8 257.2,486.7 265.6,487.9 274.1,488.6 282.5,488.5 291.0,486.1 299.4,482.5 307.8,480.5 316.3,478.7 324.7,476.2 333.2,471.5 341.6,466.0 350.0,460.6 358.5,457.3 366.9,455.4 375.4,453.3 383.8,450.3 392.2,446.7 400.7,444.6 409.1,443.9 417.6,443.9 426.0,442.7 434.4,439.5 442.9,435.0 451.3,429.8 459.8,424.2 468.2,418.2 476.6,410.7 485.1,403.6 493.5,396.8 502.0,392.5 510.4,390.8 518.9,390.8 527.3,392.8 535.7,394.3 544.2,396.3 552.6,398.9 561.0,402.3 569.5,405.9 577.9,407.9 586.4,408.9 594.8,411.2 603.2,413.3 611.7,414.8 620.1,413.6 628.6,410.5 637.0,406.5 645.4,401.4 653.9,396.6 662.3,391.4 670.8,386.8 679.2,382.6 687.6,380.6 696.1,379.5 704.5,379.5 713.0,379.4 721.4,378.0 729.8,374.4 738.3,370.6 746.7,366.2 755.2,361.3 763.6,354.8 772.0,347.3 780.5,339.3 788.9,332.2 797.4,328.6 805.8,329.8 814.2,334.5 822.7,340.5 831.1,345.0 839.6,349.4 848.0,353.5 856.4,358.0 864.9,360.4 873.3,360.6 881.8,359.2 890.2,357.4 898.6,356.0 907.1,354.2 915.5,352.1 924.0,348.7 932.4,346.4 940.8,346.1 949.3,346.9 957.7,346.8 966.2,345.5 974.6,344.3 983.0,343.3 991.5,342.5 999.9,340.1 1008.4,335.5 1016.8,327.6 1025.2,317.8 1033.7,306.0 1042.1,293.7 1050.6,280.0 1059.0,267.2 1067.5,256.2 1075.9,248.6 1084.3,243.0 1092.8,239.5 1101.2,238.8 1109.7,240.5 1118.1,243.4 1126.5,246.0 1135.0,249.0 1143.4,252.2 1151.9,255.4 1160.3,255.4 1168.7,251.3 1177.2,242.2 1185.6,230.9 1194.0,220.3 1202.5,213.0 1210.9,208.6 1219.4,205.9 1227.8,204.6 1236.2,209.9"/>
<path d="M54.6,493.5 63.1,490.2 71.5,486.6 80.0,484.3 88.4,483.3 96.8,481.2 105.3,479.5 113.7,480.3 122.2,481.6 130.6,480.4 139.0,483.1 147.5,486.1 155.9,488.7 164.4,490.5 172.8,491.4 181.2,491.2 189.7,491.2 198.1,490.7 206.6,489.9 215.0,489.6 223.4,489.6 231.9,490.6 240.3,490.6 248.8,490.1 257.2,488.9 265.6,487.3 274.1,485.3 282.5,482.4 291.0,476.8 299.4,472.3 307.8,468.9 316.3,466.5 324.7,462.1 333.2,457.1 341.6,452.0 350.0,448.2 358.5,444.9 366.9,442.7 375.4,439.3 383.8,435.2 392.2,428.7 400.7,422.7 409.1,417.3 417.6,412.8 426.0,410.2 434.4,409.9 442.9,413.4 451.3,416.5 459.8,418.7 468.2,418.0 476.6,417.5 485.1,416.0 493.5,411.6 502.0,404.3 510.4,395.7 518.9,390.4 527.3,388.2 535.7,389.5 544.2,392.3 552.6,395.4 561.0,399.2 569.5,403.6 577.9,406.2 586.4,408.5 594.8,410.1 603.2,411.8 611.7,412.4 620.1,411.2 628.6,408.5 637.0,405.1 645.4,403.0 653.9,402.6 662.3,403.6 670.8,403.9 679.2,404.0 687.6,403.6 696.1,402.1 704.5,398.3 713.0,392.2 721.4,383.4 729.8,374.4 738.3,366.6 746.7,360.3 755.2,355.7 763.6,353.2 772.0,353.8 780.5,356.5 788.9,360.6 797.4,362.9 805.8,360.9 814.2,353.6 822.7,342.8 831.1,331.0 839.6,320.3 848.0,313.1 856.4,311.2 864.9,315.8 873.3,324.1 881.8,331.7 890.2,336.9 898.6,339.5 907.1,339.8 915.5,337.0 924.0,330.1 932.4,318.5 940.8,306.6 949.3,297.5 957.7,291.6 966.2,288.2 974.6,288.2 983.0,291.0 991.5,296.6 999.9,303.5 1008.4,309.7 1016.8,313.1 1025.2,311.1 1033.7,304.6 1042.1,293.7 1050.6,281.5 1059.0,269.5 1067.5,260.1 1075.9,253.8 1084.3,250.8 1092.8,251.3 1101.2,255.4 1109.7,260.9 1118.1,265.2 1126.5,266.9 1135.0,265.1 1143.4,261.6 1151.9,255.9 1160.3,249.3 1168.7,242.0 1177.2,236.1 1185.6,233.1 1194.0,233.6 1202.5,238.0 1210.9,243.8 1219.4,248.0 1227.8,249.5 1236.2,252.4"/>
</g>
<line x1="54.55" x2="1236.2" y1="586.10" y2="586.10" stroke="#000" stroke-width="1.5"/>
<path d="M54.5,463.8 56.9,463.3 59.3,462.7 61.7,462.2 64.0,461.7 66.4,461.2 68.8,460.6 71.1,460.1 73.5,459.6 75.9,459.1 78.2,458.6 80.6,458.1 83.0,457.6 85.3,457.1 87.7,456.6 90.1,456.1 92.4,455.6 94.8,455.1 97.2,454.6 99.6,454.1 101.9,453.6 104.3,453.1 106.7,452.7 109.0,452.2 111.4,451.7 113.8,451.2 116.1,450.8 118.5,450.3 120.9,449.8 123.2,449.4 125.6,448.9 128.0,448.5 130.3,448.0 132.7,447.6 135.1,447.2 137.5,446.8 139.8,446.4 142.2,445.9 144.6,445.5 146.9,445.1 149.3,444.7 151.7,444.3 154.0,443.9 156.4,443.5 158.8,443.0 161.1,442.6 163.5,442.2 165.9,441.8 168.2,441.3 170.6,440.9 173.0,440.4 175.4,440.0 177.7,439.6 180.1,439.1 182.5,438.7 184.8,438.2 187.2,437.8 189.6,437.3 191.9,436.9 194.3,436.4 196.7,436.0 199.0,435.5 201.4,435.0 203.8,434.5 206.1,434.0 208.5,433.5 210.9,433.0 213.2,432.5 215.6,432.0 218.0,431.5 220.4,431.0 222.7,430.4 225.1,429.9 227.5,429.4 229.8,428.9 232.2,428.4 234.6,427.9 236.9,427.4 239.3,427.0 241.7,426.5 244.0,426.0 246.4,425.6 248.8,425.1 251.1,424.7 253.5,424.2 255.9,423.8 258.3,423.4 260.6,422.9 263.0,422.5 265.4,422.1 267.7,421.6 270.1,421.2 272.5,420.8 274.8,420.4 277.2,419.9 279.6,419.5 281.9,419.1 284.3,418.7 286.7,418.3 289.0,417.9 291.4,417.4 293.8,417.0 296.2,416.6 298.5,416.1 300.9,415.7 303.3,415.2 305.6,414.7 308.0,414.2 310.4,413.6 312.7,413.1 315.1,412.5 317.5,412.0 319.8,411.5 322.2,411.0 324.6,410.5 326.9,410.0 329.3,409.6 331.7,409.1 334.0,408.7 336.4,408.3 338.8,407.9 341.2,407.5 343.5,407.2 345.9,406.8 348.3,406.4 350.6,406.0 353.0,405.6 355.4,405.2 357.7,404.7 360.1,404.3 362.5,403.8 364.8,403.3 367.2,402.7 369.6,402.1 371.9,401.5 374.3,401.0 376.7,400.5 379.1,400.0 381.4,399.6 383.8,399.2 386.2,398.7 388.5,398.3 390.9,398.0 393.3,397.6 395.6,397.2 398.0,396.8 400.4,396.5 402.7,396.1 405.1,395.7 407.5,395.4 409.8,395.0 412.2,394.6 414.6,394.2 417.0,393.8 419.3,393.4 421.7,393.0 424.1,392.6 426.4,392.1 428.8,391.7 431.2,391.3 433.5,390.9 435.9,390.4 438.3,390.0 440.6,389.6 443.0,389.1 445.4,388.7 447.7,388.3 450.1,387.8 452.5,387.4 454.8,386.9 457.2,386.5 459.6,386.0 462.0,385.6 464.3,385.1 466.7,384.7 469.1,384.2 471.4,383.8 473.8,383.3 476.2,382.8 478.5,382.3 480.9,381.9 483.3,381.4 485.6,380.9 488.0,380.4 490.4,379.8 492.7,379.3 495.1,378.7 497.5,378.2 499.9,377.6 502.2,377.0 504.6,376.4 507.0,375.8 509.3,375.2 511.7,374.5 514.1,373.9 516.4,373.3 518.8,372.7 521.2,372.0 523.5,371.4 525.9,370.8 528.3,370.2 530.6,369.5 533.0,368.9 535.4,368.2 537.8,367.5 540.1,366.9 542.5,366.2 544.9,365.5 547.2,364.8 549.6,364.2 552.0,363.6 554.3,363.0 556.7,362.4 559.1,361.8 561.4,361.3 563.8,360.9 566.2,360.4 568.5,360.0 570.9,359.6 573.3,359.2 575.7,358.8 578.0,358.4 580.4,358.1 582.8,357.7 585.1,357.3 587.5,356.9 589.9,356.6 592.2,356.2 594.6,355.8 597.0,355.4 599.3,355.0 601.7,354.6 604.1,354.2 606.4,353.8 608.8,353.5 611.2,353.1 613.5,352.7 615.9,352.3 618.3,351.9 620.7,351.4 623.0,351.0 625.4,350.6 627.8,350.2 630.1,349.7 632.5,349.3 634.9,348.8 637.2,348.4 639.6,347.9 642.0,347.5 644.3,347.0 646.7,346.5 649.1,346.0 651.4,345.5 653.8,345.0 656.2,344.4 658.6,343.9 660.9,343.3 663.3,342.7 665.7,342.1 668.0,341.5 670.4,340.9 672.8,340.3 675.1,339.8 677.5,339.2 679.9,338.7 682.2,338.2 684.6,337.7 687.0,337.2 689.3,336.6 691.7,336.1 694.1,335.6 696.5,335.2 698.8,334.7 701.2,334.2 703.6,333.8 705.9,333.3 708.3,332.9 710.7,332.5 713.0,332.1 715.4,331.7 717.8,331.3 720.1,331.0 722.5,330.6 724.9,330.3 727.2,330.0 729.6,329.7 732.0,329.4 734.3,329.1 736.7,328.8 739.1,328.5 741.5,328.2 743.8,327.9 746.2,327.6 748.6,327.3 750.9,327.0 753.3,326.6 755.7,326.3 758.0,325.9 760.4,325.5 762.8,325.2 765.1,324.8 767.5,324.4 769.9,324.0 772.2,323.5 774.6,323.1 777.0,322.7 779.4,322.3 781.7,321.9 784.1,321.5 786.5,321.1 788.8,320.7 791.2,320.3 793.6,319.9 795.9,319.5 798.3,319.1 800.7,318.7 803.0,318.2 805.4,317.8 807.8,317.4 810.1,317.0 812.5,316.6 814.9,316.2 817.3,315.8 819.6,315.4 822.0,315.0 824.4,314.7 826.7,314.3 829.1,314.0 831.5,313.6 833.8,313.3 836.2,313.0 838.6,312.6 840.9,312.3 843.3,312.0 845.7,311.7 848.0,311.4 850.4,311.1 852.8,310.8 855.1,310.5 857.5,310.2 859.9,309.9 862.3,309.6 864.6,309.3 867.0,308.9 869.4,308.6 871.7,308.2 874.1,307.8 876.5,307.4 878.8,307.0 881.2,306.6 883.6,306.3 885.9,305.9 888.3,305.6 890.7,305.3 893.0,305.1 895.4,304.8 897.8,304.6 900.2,304.4 902.5,304.2 904.9,304.0 907.3,303.8 909.6,303.7 912.0,303.5 914.4,303.3 916.7,303.0 919.1,302.8 921.5,302.5 923.8,302.2 926.2,301.8 928.6,301.4 930.9,301.0 933.3,300.5 935.7,300.1 938.1,299.6 940.4,299.2 942.8,298.8 945.2,298.4 947.5,298.1 949.9,297.9 952.3,297.7 954.6,297.6 957.0,297.5 959.4,297.4 961.7,297.3 964.1,297.2 966.5,297.2 968.8,297.1 971.2,297.0 973.6,296.8 975.9,296.7 978.3,296.4 980.7,296.1 983.1,295.7 985.4,295.2 987.8,294.7 990.2,294.1 992.5,293.5 994.9,292.8 997.3,292.2 999.6,291.5 1002.0,290.8 1004.4,290.1 1006.7,289.5 1009.1,288.9 1011.5,288.3 1013.8,287.8 1016.2,287.3 1018.6,286.8 1021.0,286.3 1023.3,285.8 1025.7,285.3 1028.1,284.8 1030.4,284.3 1032.8,283.8 1035.2,283.4 1037.5,282.9 1039.9,282.4 1042.3,282.0 1044.6,281.6 1047.0,281.1 1049.4,280.7 1051.7,280.2 1054.1,279.8 1056.5,279.4 1058.9,279.0 1061.2,278.5 1063.6,278.1 1066.0,277.7 1068.3,277.3 1070.7,276.9 1073.1,276.5 1075.4,276.1 1077.8,275.7 1080.2,275.4 1082.5,275.0 1084.9,274.7 1087.3,274.4 1089.6,274.1 1092.0,273.8 1094.4,273.5 1096.8,273.3 1099.1,273.1 1101.5,272.9 1103.9,272.7 1106.2,272.5 1108.6,272.3 1111.0,272.1 1113.3,271.9 1115.7,271.7 1118.1,271.5 1120.4,271.2 1122.8,270.9 1125.2,270.5 1127.5,270.1 1129.9,269.6 1132.3,269.0 1134.6,268.2 1137.0,267.4 1139.4,266.6 1141.8,265.7 1144.1,264.9 1146.5,264.2 1148.9,263.5 1151.2,262.9 1153.6,262.4 1156.0,261.9 1158.3,261.5 1160.7,261.0 1163.1,260.6 1165.4,260.2 1167.8,259.8 1170.2,259.4 1172.5,259.1 1174.9,258.7 1177.3,258.4 1179.7,258.0 1182.0,257.6 1184.4,257.3 1186.8,256.9 1189.1,256.5 1191.5,256.2 1193.9,255.8 1196.2,255.5 1198.6,255.1 1201.0,254.8 1203.3,254.4 1205.7,254.1 1208.1,253.7 1210.4,253.4 1212.8,253.0 1215.2,252.6 1217.6,252.0 1219.9,251.5 1222.3,250.9 1224.7,250.5 1227.0,250.3 1229.4,250.4 1231.8,250.6 1234.1,251.0 1236.5,251.6" stroke="#0000ff" stroke-width="2.3" fill="none" stroke-linejoin="round"/>
<path d="M54.5,512.3 65.0,515.5 77.6,513.7 90.0,516.0 105.0,514.8 120.0,514.2 137.8,518.5 150.0,517.5 165.4,517.5 180.4,511.2 198.0,510.5 213.0,503.0 230.6,495.4 250.6,490.9 265.7,488.7 280.7,487.4 298.3,482.9 315.9,482.4 330.9,485.4 340.0,485.3 355.0,484.8 370.0,487.0 385.1,488.3 400.2,487.8 415.2,490.3 432.8,484.8 447.9,484.5 462.9,480.8 476.7,481.8 490.5,475.2 510.6,464.0 525.6,454.7 540.7,451.7 553.2,448.2 567.0,445.9 583.3,448.2 603.4,453.9 623.4,449.4 637.2,453.4 652.5,447.3 667.6,446.5 682.6,440.8 697.7,438.3 712.7,429.7 727.8,427.2 745.3,422.2 762.9,419.2 780.5,420.2 795.5,420.4 805.5,419.4 815.6,415.2 825.6,415.2 835.6,420.2 848.2,426.5 865.7,434.0 880.8,441.5 893.3,443.5 905.9,447.8 918.4,447.3 928.4,447.8 941.0,454.0 953.0,458.0 968.1,460.6 983.1,461.1 998.2,450.5 1013.2,438.0 1033.3,427.9 1048.4,424.2 1060.9,416.7 1076.0,412.9 1088.5,408.6 1108.6,409.6 1126.1,403.6 1141.2,405.9 1151.2,397.9 1163.7,400.4 1176.3,400.9 1186.3,407.9 1196.3,409.9 1203.9,407.4 1216.4,410.4 1236.5,419.9" stroke="#0000ff" stroke-width="1.75" fill="none" stroke-dasharray="6.4 3.8" stroke-linejoin="round"/>
<path d="M54.5,404.6 75.0,397.6 87.6,397.4 96.4,398.4 115.0,391.4 132.8,387.6 147.8,390.6 165.4,383.8 183.0,377.0 200.5,373.8 218.0,365.5 235.6,362.2 240.0,361.6 260.0,359.1 282.6,355.4 302.7,349.1 320.3,340.3 340.3,339.0 350.4,336.6 362.9,332.8 390.5,331.7 403.0,329.0 415.6,324.0 428.1,314.0 440.7,309.5 453.2,309.0 465.4,307.0 478.3,304.7 490.8,297.7 500.8,293.0 520.0,290.5 537.6,289.5 547.7,286.5 560.2,279.8 575.2,277.0 592.8,278.5 605.3,277.2 622.9,280.3 632.9,277.7 645.5,270.2 660.5,262.2 673.1,259.2 685.6,252.7 700.6,242.6 713.2,236.4 721.0,236.2 730.5,243.5 739.3,246.9 755.6,240.4 778.2,231.8 794.0,220.2 805.5,217.6 818.1,214.3 828.1,216.3 840.7,221.3 853.2,218.8 865.7,224.3 875.8,220.1 890.8,210.0 908.4,203.0 918.4,205.0 933.5,210.0 945.0,212.0 950.5,212.5 965.6,203.0 983.1,199.2 1000.7,207.5 1013.2,198.0 1025.8,185.4 1040.8,160.4 1053.4,147.8 1067.2,143.6 1081.0,150.3 1096.0,164.1 1111.0,172.1 1126.1,164.1 1143.7,157.8 1153.7,157.6 1166.2,158.6 1176.3,150.3 1186.3,139.8 1201.3,137.3 1208.9,127.8 1220.2,115.2 1226.4,116.5 1236.5,119.0" stroke="#ff0000" stroke-width="1.75" fill="none" stroke-dasharray="6.4 3.8" stroke-linejoin="round"/>
<path d="M54.5,492.0 55.2,491.6 66.0,487.4 78.0,482.8 88.8,482.6 104.4,480.3 121.2,481.4 130.8,478.8 145.2,481.4 162.0,483.8 181.2,484.6 195.6,487.8 204.0,488.0 213.0,487.9 230.6,488.4 250.6,484.9 265.7,481.6 280.7,479.1 298.3,472.9 315.9,467.9 330.9,460.3 340.0,454.0 357.6,442.9 375.2,435.9 392.8,429.5 410.4,424.9 428.0,418.1 445.6,411.9 463.2,404.9 480.8,397.8 498.4,390.8 516.0,384.6 533.6,381.1 542.4,379.9 560.0,377.8 562.8,377.8 565.7,377.9 568.5,377.9 571.3,378.0 574.2,378.1 577.0,378.2 579.8,378.3 582.6,378.4 585.5,378.5 588.3,378.7 591.1,378.9 594.0,379.1 596.8,379.2 599.6,379.4 602.5,379.6 605.3,379.8 608.1,380.0 610.9,380.2 613.8,380.4 616.6,380.6 619.4,380.8 622.3,380.9 625.1,381.1 627.9,381.2 630.8,381.3 633.6,381.4 636.4,381.5 639.3,381.5 642.1,381.4 644.9,381.2 647.7,380.9 650.6,380.6 653.4,380.4 656.2,380.0 659.1,379.6 661.9,379.2 664.7,378.6 667.6,377.8 670.4,376.8 673.2,375.8 676.1,374.8 678.9,373.9 681.7,373.2 684.5,372.4 687.4,371.7 690.2,370.9 693.0,370.2 695.9,369.4 698.7,368.7 701.5,367.9 704.4,367.1 707.2,366.3 710.0,365.6 712.8,364.9 715.7,364.2 718.5,363.5 721.3,362.9 724.2,362.4 727.0,361.8 729.8,361.2 732.7,360.7 735.5,360.1 738.3,359.5 741.2,358.9 744.0,358.3 746.8,357.7 749.6,357.0 752.5,356.3 755.3,355.6 758.1,354.9 761.0,354.2 763.8,353.6 766.6,353.0 769.5,352.5 772.3,352.0 775.1,351.5 778.0,351.0 780.8,350.5 783.6,350.1 786.4,349.7 789.3,349.3 792.1,349.0 794.9,348.8 797.8,348.6 800.6,348.4 803.4,348.3 806.3,348.1 809.1,348.0 811.9,347.9 814.7,347.7 817.6,347.6 820.4,347.3 823.2,347.1 826.1,346.8 828.9,346.5 831.7,346.2 834.6,346.0 837.4,345.7 840.2,345.5 843.1,345.3 845.9,345.1 848.7,345.0 851.5,344.8 854.4,344.7 857.2,344.5 860.0,344.4 862.9,344.2 865.7,344.0 868.5,343.7 871.4,343.4 874.2,343.1 877.0,342.7 879.9,342.3 882.7,341.8 885.5,341.4 888.3,340.9 891.2,340.4 894.0,339.9 896.8,339.4 899.7,338.8 902.5,338.2 905.3,337.6 908.2,337.0 911.0,336.4 913.8,335.7 916.6,335.1 919.5,334.5 922.3,333.9 925.1,333.3 928.0,332.7 930.8,332.2 933.6,331.6 936.5,331.0 939.3,330.4 942.1,329.8 945.0,329.2 947.8,328.6 950.6,328.0 953.4,327.3 956.3,326.7 959.1,326.0 961.9,325.3 964.8,324.6 967.6,323.8 970.4,323.1 973.3,322.4 976.1,321.6 978.9,320.9 981.8,320.2 984.6,319.4 987.4,318.7 990.2,318.0 993.1,317.3 995.9,316.6 998.7,315.9 1001.6,315.3 1004.4,314.7 1007.2,314.2 1010.1,313.6 1012.9,313.1 1015.7,312.6 1018.5,312.1 1021.4,311.6 1024.2,311.1 1027.0,310.5 1029.9,309.9 1032.7,309.3 1035.5,308.7 1038.4,308.0 1041.2,307.2 1044.0,306.3 1046.9,305.3 1049.7,304.3 1052.5,303.2 1055.3,302.2 1058.2,301.1 1061.0,300.0 1063.8,299.1 1066.7,298.1 1069.5,297.1 1072.3,296.2 1075.2,295.2 1078.0,294.2 1080.8,293.3 1083.7,292.3 1086.5,291.4 1089.3,290.5 1092.1,289.5 1095.0,288.6 1097.8,287.7 1100.6,286.8 1103.5,285.9 1106.3,285.0 1109.1,284.2 1112.0,283.3 1114.8,282.4 1117.6,281.6 1120.4,280.7 1123.3,279.9 1126.1,279.0 1128.9,278.2 1131.8,277.4 1134.6,276.6 1137.4,275.8 1140.3,275.0 1143.1,274.2 1145.9,273.4 1148.8,272.7 1151.6,272.0 1154.4,271.3 1157.2,270.6 1160.1,269.9 1162.9,269.1 1165.7,268.4 1168.6,267.6 1171.4,266.8 1174.2,266.0 1177.1,265.2 1179.9,264.3 1182.7,263.3 1185.6,262.3 1188.4,261.3 1191.2,260.2 1194.0,259.2 1196.9,258.2 1199.7,257.2 1202.5,256.2 1205.4,255.3 1208.2,254.4 1211.0,253.4 1213.9,252.5 1216.7,251.5 1219.5,250.2 1222.3,248.8 1225.2,247.7 1228.0,247.3 1230.8,247.5 1233.7,248.1 1236.5,249.1" stroke="#000" stroke-width="3.1" fill="none" stroke-linejoin="round"/>
</g>
<rect x="53.0" y="364.9" width="488.4" height="172.3" fill="none" stroke="#ee1c25" stroke-width="1.8"/>
<rect x="54.55" y="41.6" width="1181.65" height="569.90" fill="none" stroke="#000" stroke-width="1.15"/>
<g stroke="#000" stroke-width="1.1">
<line x1="50.05" x2="54.55" y1="586.10" y2="586.10"/>
<line x1="50.05" x2="54.55" y1="502.21" y2="502.21"/>
<line x1="50.05" x2="54.55" y1="418.32" y2="418.32"/>
<line x1="50.05" x2="54.55" y1="334.43" y2="334.43"/>
<line x1="50.05" x2="54.55" y1="250.54" y2="250.54"/>
<line x1="50.05" x2="54.55" y1="166.65" y2="166.65"/>
<line x1="50.05" x2="54.55" y1="82.76" y2="82.76"/>
<line x1="88.41" x2="88.41" y1="611.5" y2="615.90"/>
<line x1="324.73" x2="324.73" y1="611.5" y2="615.90"/>
<line x1="561.05" x2="561.05" y1="611.5" y2="615.90"/>
<line x1="797.37" x2="797.37" y1="611.5" y2="615.90"/>
<line x1="1033.69" x2="1033.69" y1="611.5" y2="615.90"/>
</g>
<text y="591.05" font-size="13.44" fill="#000" ><tspan x="37.76" textLength="8.14" lengthAdjust="spacingAndGlyphs">0</tspan></text>
<text y="507.16" font-size="13.44" fill="#000" ><tspan x="37.76" textLength="8.14" lengthAdjust="spacingAndGlyphs">5</tspan></text>
<text y="423.27" font-size="13.44" fill="#000" ><tspan x="29.61" textLength="16.29" lengthAdjust="spacingAndGlyphs">10</tspan></text>
<text y="339.38" font-size="13.44" fill="#000" ><tspan x="29.61" textLength="16.29" lengthAdjust="spacingAndGlyphs">15</tspan></text>
<text y="255.49" font-size="13.44" fill="#000" ><tspan x="29.61" textLength="16.29" lengthAdjust="spacingAndGlyphs">20</tspan></text>
<text y="171.60" font-size="13.44" fill="#000" ><tspan x="29.61" textLength="16.29" lengthAdjust="spacingAndGlyphs">25</tspan></text>
<text y="87.71" font-size="13.44" fill="#000" ><tspan x="29.61" textLength="16.29" lengthAdjust="spacingAndGlyphs">30</tspan></text>
<text y="630.70" font-size="13.44" fill="#000" ><tspan x="66.17" textLength="16.29" lengthAdjust="spacingAndGlyphs">16</tspan> <tspan x="86.53" textLength="24.12" lengthAdjust="spacingAndGlyphs">Sep</tspan></text>
<text y="644.60" font-size="13.44" fill="#000" ><tspan x="72.12" textLength="32.58" lengthAdjust="spacingAndGlyphs">2025</tspan></text>
<text y="630.70" font-size="13.44" fill="#000" ><tspan x="302.49" textLength="16.29" lengthAdjust="spacingAndGlyphs">23</tspan> <tspan x="322.85" textLength="24.12" lengthAdjust="spacingAndGlyphs">Sep</tspan></text>
<text y="644.60" font-size="13.44" fill="#000" ><tspan x="308.44" textLength="32.58" lengthAdjust="spacingAndGlyphs">2025</tspan></text>
<text y="630.70" font-size="13.44" fill="#000" ><tspan x="538.81" textLength="16.29" lengthAdjust="spacingAndGlyphs">30</tspan> <tspan x="559.17" textLength="24.12" lengthAdjust="spacingAndGlyphs">Sep</tspan></text>
<text y="644.60" font-size="13.44" fill="#000" ><tspan x="544.76" textLength="32.58" lengthAdjust="spacingAndGlyphs">2025</tspan></text>
<text y="630.70" font-size="13.44" fill="#000" ><tspan x="776.13" textLength="16.29" lengthAdjust="spacingAndGlyphs">07</tspan> <tspan x="796.48" textLength="22.13" lengthAdjust="spacingAndGlyphs">Oct</tspan></text>
<text y="644.60" font-size="13.44" fill="#000" ><tspan x="781.08" textLength="32.58" lengthAdjust="spacingAndGlyphs">2025</tspan></text>
<text y="630.70" font-size="13.44" fill="#000" ><tspan x="1012.45" textLength="16.29" lengthAdjust="spacingAndGlyphs">14</tspan> <tspan x="1032.80" textLength="22.13" lengthAdjust="spacingAndGlyphs">Oct</tspan></text>
<text y="644.60" font-size="13.44" fill="#000" ><tspan x="1017.40" textLength="32.58" lengthAdjust="spacingAndGlyphs">2025</tspan></text>
<g transform="translate(20.5,327.2) rotate(-90)"><text y="0.00" font-size="13.44" fill="#000" ><tspan x="-40.25" textLength="42.99" lengthAdjust="spacingAndGlyphs">u-wind</tspan> <tspan x="6.81" textLength="33.44" lengthAdjust="spacingAndGlyphs">(m/s)</tspan></text></g>
<text y="34.20" font-size="20.35" fill="#000" ><tspan x="54.60" textLength="50.37" lengthAdjust="spacingAndGlyphs">GEFS</tspan> <tspan x="111.13" textLength="66.63" lengthAdjust="spacingAndGlyphs">10-hPa</tspan> <tspan x="183.92" textLength="48.85" lengthAdjust="spacingAndGlyphs">60°N</tspan> <tspan x="238.93" textLength="54.68" lengthAdjust="spacingAndGlyphs">Zonal</tspan> <tspan x="299.77" textLength="52.80" lengthAdjust="spacingAndGlyphs">Mean</tspan> <tspan x="358.73" textLength="54.68" lengthAdjust="spacingAndGlyphs">Zonal</tspan> <tspan x="419.57" textLength="48.71" lengthAdjust="spacingAndGlyphs">Wind</tspan> <tspan x="474.43" textLength="50.63" lengthAdjust="spacingAndGlyphs">(m/s)</tspan></text>
<text y="19.90" font-size="13.44" fill="#000" ><tspan x="1043.57" textLength="33.36" lengthAdjust="spacingAndGlyphs">ERA5</tspan> <tspan x="1081.00" textLength="79.68" lengthAdjust="spacingAndGlyphs">Climatology:</tspan> <tspan x="1164.75" textLength="71.55" lengthAdjust="spacingAndGlyphs">1958–2025</tspan></text>
<text y="34.00" font-size="13.50" fill="#000" ><tspan x="1042.36" textLength="33.42" lengthAdjust="spacingAndGlyphs">GEFS</tspan> <tspan x="1079.87" textLength="24.89" lengthAdjust="spacingAndGlyphs">Init:</tspan> <tspan x="1108.85" textLength="41.86" lengthAdjust="spacingAndGlyphs">00UTC</tspan> <tspan x="1154.79" textLength="16.36" lengthAdjust="spacingAndGlyphs">15</tspan> <tspan x="1175.25" textLength="24.24" lengthAdjust="spacingAndGlyphs">Sep</tspan> <tspan x="1203.57" textLength="32.73" lengthAdjust="spacingAndGlyphs">2025</tspan></text>
<text y="680.10" font-size="10.21" fill="#000" ><tspan x="18.20" textLength="30.28" lengthAdjust="spacingAndGlyphs">NOTE:</tspan> <tspan x="51.57" textLength="25.26" lengthAdjust="spacingAndGlyphs">GEFS</tspan> <tspan x="79.92" textLength="21.18" lengthAdjust="spacingAndGlyphs">may</tspan> <tspan x="104.19" textLength="33.10" lengthAdjust="spacingAndGlyphs">exhibit</tspan> <tspan x="140.38" textLength="5.96" lengthAdjust="spacingAndGlyphs">a</tspan> <tspan x="149.43" textLength="30.94" lengthAdjust="spacingAndGlyphs">strong</tspan> <tspan x="183.45" textLength="31.07" lengthAdjust="spacingAndGlyphs">vortex</tspan> <tspan x="217.61" textLength="19.89" lengthAdjust="spacingAndGlyphs">bias</tspan> <tspan x="240.59" textLength="20.62" lengthAdjust="spacingAndGlyphs">with</tspan> <tspan x="264.30" textLength="47.14" lengthAdjust="spacingAndGlyphs">increased</tspan> <tspan x="314.53" textLength="20.81" lengthAdjust="spacingAndGlyphs">lead</tspan> <tspan x="338.43" textLength="25.05" lengthAdjust="spacingAndGlyphs">time.</tspan></text>
<text y="681.40" font-size="12.15" fill="#404040" ><tspan x="898.59" textLength="21.81" lengthAdjust="spacingAndGlyphs">Plot</tspan> <tspan x="924.07" textLength="17.25" lengthAdjust="spacingAndGlyphs">by:</tspan> <tspan x="945.00" textLength="37.43" lengthAdjust="spacingAndGlyphs">Andrej</tspan> <tspan x="986.10" textLength="19.11" lengthAdjust="spacingAndGlyphs">Flis</tspan> <tspan x="1008.89" textLength="70.86" lengthAdjust="spacingAndGlyphs">(@Recretos)</tspan> <tspan x="1083.43" textLength="3.90" lengthAdjust="spacingAndGlyphs">/</tspan> <tspan x="1091.01" textLength="138.39" lengthAdjust="spacingAndGlyphs">www.severe-weather.eu</tspan></text>
<rect x="61.4" y="48.4" width="207.4" height="136.2" rx="2.6" ry="2.6" fill="#fff" fill-opacity="0.8" stroke="#cfcfcf" stroke-opacity="1" stroke-width="1.1"/>
<line x1="66.6" x2="92.3" y1="59.2" y2="59.2" stroke="#000" stroke-opacity="0.30" stroke-width="1.2"/>
<line x1="65.6" x2="93.3" y1="78.0" y2="78.0" stroke="#000" stroke-width="2.9"/>
<rect x="66.6" y="92.60000000000001" width="25.70" height="8.9" fill="#0000ff" fill-opacity="0.105"/>
<rect x="66.6" y="111.5" width="25.70" height="8.9" fill="#0000ff" fill-opacity="0.05"/>
<line x1="65.6" x2="93.3" y1="135.1" y2="135.1" stroke="#0000ff" stroke-width="2.2"/>
<line x1="66.6" x2="92.3" y1="154.1" y2="154.1" stroke="#0000ff" stroke-width="1.75" stroke-dasharray="6.4 3.8"/>
<line x1="66.6" x2="92.3" y1="173.0" y2="173.0" stroke="#ff0000" stroke-width="1.75" stroke-dasharray="6.4 3.8"/>
<text y="63.60" font-size="13.55" fill="#000" ><tspan x="102.70" textLength="33.53" lengthAdjust="spacingAndGlyphs">GEFS</tspan> <tspan x="140.33" textLength="59.78" lengthAdjust="spacingAndGlyphs">Members</tspan></text>
<text y="82.40" font-size="13.55" fill="#000" ><tspan x="102.70" textLength="33.53" lengthAdjust="spacingAndGlyphs">GEFS</tspan> <tspan x="140.33" textLength="35.15" lengthAdjust="spacingAndGlyphs">Mean</tspan></text>
<text y="101.30" font-size="13.55" fill="#000" ><tspan x="102.70" textLength="36.63" lengthAdjust="spacingAndGlyphs">Climo</tspan> <tspan x="143.43" textLength="52.51" lengthAdjust="spacingAndGlyphs">30–70th</tspan> <tspan x="200.05" textLength="63.64" lengthAdjust="spacingAndGlyphs">Percentile</tspan></text>
<text y="120.20" font-size="13.55" fill="#000" ><tspan x="102.70" textLength="36.63" lengthAdjust="spacingAndGlyphs">Climo</tspan> <tspan x="143.43" textLength="52.51" lengthAdjust="spacingAndGlyphs">10–90th</tspan> <tspan x="200.05" textLength="63.64" lengthAdjust="spacingAndGlyphs">Percentile</tspan></text>
<text y="139.50" font-size="13.55" fill="#000" ><tspan x="102.70" textLength="33.62" lengthAdjust="spacingAndGlyphs">ERA5</tspan> <tspan x="140.42" textLength="52.97" lengthAdjust="spacingAndGlyphs">Average</tspan></text>
<text y="158.50" font-size="13.55" fill="#000" ><tspan x="102.70" textLength="33.62" lengthAdjust="spacingAndGlyphs">ERA5</tspan> <tspan x="140.42" textLength="44.57" lengthAdjust="spacingAndGlyphs">Record</tspan> <tspan x="189.10" textLength="22.89" lengthAdjust="spacingAndGlyphs">Min</tspan></text>
<text y="177.40" font-size="13.55" fill="#000" ><tspan x="102.70" textLength="33.62" lengthAdjust="spacingAndGlyphs">ERA5</tspan> <tspan x="140.42" textLength="44.57" lengthAdjust="spacingAndGlyphs">Record</tspan> <tspan x="189.10" textLength="26.67" lengthAdjust="spacingAndGlyphs">Max</tspan></text>
</svg></body></html>
